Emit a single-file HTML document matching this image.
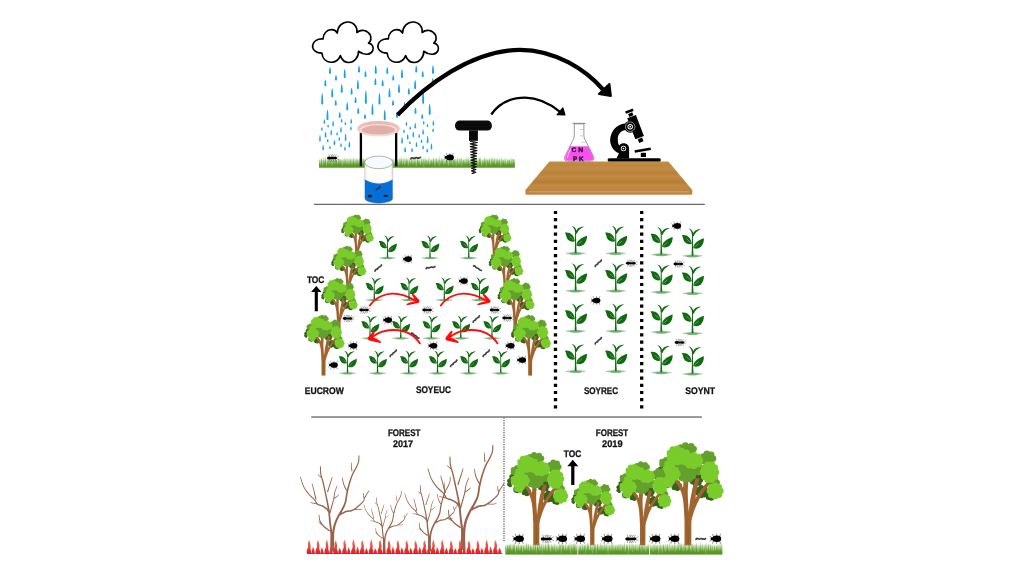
<!DOCTYPE html>
<html lang="en"><head><meta charset="utf-8"><title>Sampling design</title>
<style>
html,body{margin:0;padding:0;background:#fff;}
body{width:1024px;height:576px;overflow:hidden;}
svg{display:block;will-change:transform;font-family:"Liberation Sans","DejaVu Sans",sans-serif;}
</style></head>
<body>
<svg width="1024" height="576" viewBox="0 0 1024 576">
<defs>
<symbol id="tree" viewBox="-5.8 0 105.8 160" preserveAspectRatio="none" overflow="visible"><ellipse cx="27.5" cy="67.5" rx="6.1" ry="6.1" fill="#3b6121"/><circle cx="31.7" cy="67.5" r="4.3" fill="#3b6121"/><circle cx="28.8" cy="71.5" r="4.3" fill="#3b6121"/><circle cx="24.1" cy="70.0" r="4.3" fill="#3b6121"/><circle cx="24.1" cy="65.0" r="4.3" fill="#3b6121"/><circle cx="28.8" cy="63.5" r="4.3" fill="#3b6121"/><ellipse cx="58.0" cy="58.5" rx="8.1" ry="8.1" fill="#3b6121"/><circle cx="64.2" cy="58.5" r="4.3" fill="#3b6121"/><circle cx="61.9" cy="63.3" r="4.3" fill="#3b6121"/><circle cx="56.6" cy="64.5" r="4.3" fill="#3b6121"/><circle cx="52.4" cy="61.2" r="4.3" fill="#3b6121"/><circle cx="52.4" cy="55.8" r="4.3" fill="#3b6121"/><circle cx="56.6" cy="52.5" r="4.3" fill="#3b6121"/><circle cx="61.9" cy="53.7" r="4.3" fill="#3b6121"/><ellipse cx="67.0" cy="76.5" rx="8.1" ry="8.1" fill="#3b6121"/><circle cx="73.2" cy="76.5" r="4.3" fill="#3b6121"/><circle cx="70.9" cy="81.3" r="4.3" fill="#3b6121"/><circle cx="65.6" cy="82.5" r="4.3" fill="#3b6121"/><circle cx="61.4" cy="79.2" r="4.3" fill="#3b6121"/><circle cx="61.4" cy="73.8" r="4.3" fill="#3b6121"/><circle cx="65.6" cy="70.5" r="4.3" fill="#3b6121"/><circle cx="70.9" cy="71.7" r="4.3" fill="#3b6121"/><ellipse cx="-0.8" cy="52.5" rx="3.4" ry="6.6" fill="#3b6121"/><circle cx="1.2" cy="52.5" r="3.2" fill="#3b6121"/><circle cx="-0.2" cy="57.4" r="3.2" fill="#3b6121"/><circle cx="-2.4" cy="55.5" r="3.2" fill="#3b6121"/><circle cx="-2.4" cy="49.5" r="3.2" fill="#3b6121"/><circle cx="-0.2" cy="47.6" r="3.2" fill="#3b6121"/><ellipse cx="4.0" cy="43.0" rx="4.1" ry="4.1" fill="#3b6121"/><circle cx="6.5" cy="43.0" r="3.5" fill="#3b6121"/><circle cx="4.8" cy="45.4" r="3.5" fill="#3b6121"/><circle cx="2.0" cy="44.5" r="3.5" fill="#3b6121"/><circle cx="2.0" cy="41.5" r="3.5" fill="#3b6121"/><circle cx="4.8" cy="40.6" r="3.5" fill="#3b6121"/><ellipse cx="80.0" cy="83.0" rx="5.6" ry="5.6" fill="#3b6121"/><circle cx="83.7" cy="83.0" r="4.3" fill="#3b6121"/><circle cx="81.1" cy="86.5" r="4.3" fill="#3b6121"/><circle cx="77.0" cy="85.2" r="4.3" fill="#3b6121"/><circle cx="77.0" cy="80.8" r="4.3" fill="#3b6121"/><circle cx="81.1" cy="79.5" r="4.3" fill="#3b6121"/><ellipse cx="12.0" cy="64.0" rx="4.6" ry="4.6" fill="#3b6121"/><circle cx="14.7" cy="64.0" r="4.3" fill="#3b6121"/><circle cx="12.8" cy="66.6" r="4.3" fill="#3b6121"/><circle cx="9.8" cy="65.6" r="4.3" fill="#3b6121"/><circle cx="9.8" cy="62.4" r="4.3" fill="#3b6121"/><circle cx="12.8" cy="61.4" r="4.3" fill="#3b6121"/><ellipse cx="43.5" cy="10.8" rx="12.6" ry="8.0" fill="#64a02c"/><circle cx="53.9" cy="10.8" r="5.0" fill="#64a02c"/><circle cx="50.0" cy="15.3" r="5.0" fill="#64a02c"/><circle cx="41.2" cy="16.4" r="5.0" fill="#64a02c"/><circle cx="34.2" cy="13.3" r="5.0" fill="#64a02c"/><circle cx="34.2" cy="8.3" r="5.0" fill="#64a02c"/><circle cx="41.2" cy="5.2" r="5.0" fill="#64a02c"/><circle cx="50.0" cy="6.3" r="5.0" fill="#64a02c"/><ellipse cx="76.0" cy="25.5" rx="10.1" ry="10.1" fill="#64a02c"/><circle cx="83.8" cy="25.5" r="5.0" fill="#64a02c"/><circle cx="80.9" cy="31.6" r="5.0" fill="#64a02c"/><circle cx="74.3" cy="33.1" r="5.0" fill="#64a02c"/><circle cx="69.0" cy="28.9" r="5.0" fill="#64a02c"/><circle cx="69.0" cy="22.1" r="5.0" fill="#64a02c"/><circle cx="74.3" cy="17.9" r="5.0" fill="#64a02c"/><circle cx="80.9" cy="19.4" r="5.0" fill="#64a02c"/><ellipse cx="13.0" cy="32.5" rx="10.5" ry="7.2" fill="#64a02c"/><circle cx="21.4" cy="32.5" r="4.6" fill="#64a02c"/><circle cx="18.2" cy="36.5" r="4.6" fill="#64a02c"/><circle cx="11.1" cy="37.5" r="4.6" fill="#64a02c"/><circle cx="5.4" cy="34.7" r="4.6" fill="#64a02c"/><circle cx="5.4" cy="30.3" r="4.6" fill="#64a02c"/><circle cx="11.1" cy="27.5" r="4.6" fill="#64a02c"/><circle cx="18.2" cy="28.5" r="4.6" fill="#64a02c"/><ellipse cx="86.0" cy="62.5" rx="6.1" ry="6.1" fill="#64a02c"/><circle cx="90.2" cy="62.5" r="4.3" fill="#64a02c"/><circle cx="87.3" cy="66.5" r="4.3" fill="#64a02c"/><circle cx="82.6" cy="65.0" r="4.3" fill="#64a02c"/><circle cx="82.6" cy="60.0" r="4.3" fill="#64a02c"/><circle cx="87.3" cy="58.5" r="4.3" fill="#64a02c"/><ellipse cx="56.0" cy="40.0" rx="10.2" ry="10.2" fill="#64a02c"/><circle cx="64.0" cy="40.0" r="5.0" fill="#64a02c"/><circle cx="61.0" cy="46.3" r="5.0" fill="#64a02c"/><circle cx="54.2" cy="47.8" r="5.0" fill="#64a02c"/><circle cx="48.8" cy="43.5" r="5.0" fill="#64a02c"/><circle cx="48.8" cy="36.5" r="5.0" fill="#64a02c"/><circle cx="54.2" cy="32.2" r="5.0" fill="#64a02c"/><circle cx="61.0" cy="33.7" r="5.0" fill="#64a02c"/><ellipse cx="30.0" cy="36.0" rx="7.2" ry="7.2" fill="#64a02c"/><circle cx="35.0" cy="36.0" r="5.0" fill="#64a02c"/><circle cx="31.5" cy="40.8" r="5.0" fill="#64a02c"/><circle cx="26.0" cy="38.9" r="5.0" fill="#64a02c"/><circle cx="26.0" cy="33.1" r="5.0" fill="#64a02c"/><circle cx="31.5" cy="31.2" r="5.0" fill="#64a02c"/><g transform="translate(0,0)"><path d="M39.8,160 L39.8,122 C39.5,112 38.8,102 38,93 C37.2,86 35.4,78 31.8,71 C29.2,66 26,62 22.5,58.5 L27,55.5 C31,59 34.6,64 37.4,70.5 C38.2,66 38.4,60 38.4,55 L45.8,55 C45.6,62 45,70 44.8,76 C44.8,86 45.6,98 46.4,108 C47.2,98 48.8,87 50.6,79 C52,72 54.2,63 57.2,55.5 L63.2,56.5 C61.2,63 59.2,70 58,76 C57.4,80 57,84 56.9,87.5 C60.4,80 66,72 76.5,59.5 L81,62.5 C73.6,71 67.6,79 63.2,87 C59.2,94 56,102 53.6,110 C51.4,116 50.6,120 50.4,124 L50.2,160 Z" fill="#a0652f"/><path d="M44.2,160 C44.6,140 44.6,128 44.2,112 C45.4,124 46.6,140 46.6,160 Z" fill="#8a5526" opacity="0.7"/><path d="M41.6,120 C41.8,106 41,94 39.6,84" stroke="#8a5526" stroke-width="1" fill="none" opacity="0.5"/></g><ellipse cx="42.7" cy="46.5" rx="13.6" ry="13.6" fill="#64a02c"/><circle cx="54.1" cy="46.5" r="5.0" fill="#64a02c"/><circle cx="52.3" cy="52.7" r="5.0" fill="#64a02c"/><circle cx="47.4" cy="56.9" r="5.0" fill="#64a02c"/><circle cx="41.1" cy="57.8" r="5.0" fill="#64a02c"/><circle cx="35.2" cy="55.1" r="5.0" fill="#64a02c"/><circle cx="31.8" cy="49.7" r="5.0" fill="#64a02c"/><circle cx="31.8" cy="43.3" r="5.0" fill="#64a02c"/><circle cx="35.2" cy="37.9" r="5.0" fill="#64a02c"/><circle cx="41.1" cy="35.2" r="5.0" fill="#64a02c"/><circle cx="47.4" cy="36.1" r="5.0" fill="#64a02c"/><circle cx="52.3" cy="40.3" r="5.0" fill="#64a02c"/><ellipse cx="27.0" cy="20.5" rx="12.6" ry="12.6" fill="#79cc2b"/><circle cx="37.3" cy="20.5" r="5.2" fill="#79cc2b"/><circle cx="34.9" cy="27.1" r="5.2" fill="#79cc2b"/><circle cx="28.8" cy="30.6" r="5.2" fill="#79cc2b"/><circle cx="21.9" cy="29.4" r="5.2" fill="#79cc2b"/><circle cx="17.3" cy="24.0" r="5.2" fill="#79cc2b"/><circle cx="17.3" cy="17.0" r="5.2" fill="#79cc2b"/><circle cx="21.8" cy="11.6" r="5.2" fill="#79cc2b"/><circle cx="28.8" cy="10.4" r="5.2" fill="#79cc2b"/><circle cx="34.9" cy="13.9" r="5.2" fill="#79cc2b"/><ellipse cx="38.0" cy="22.5" rx="9.8" ry="9.8" fill="#79cc2b"/><circle cx="45.5" cy="22.5" r="5.0" fill="#79cc2b"/><circle cx="42.7" cy="28.4" r="5.0" fill="#79cc2b"/><circle cx="36.3" cy="29.8" r="5.0" fill="#79cc2b"/><circle cx="31.2" cy="25.8" r="5.0" fill="#79cc2b"/><circle cx="31.2" cy="19.2" r="5.0" fill="#79cc2b"/><circle cx="36.3" cy="15.2" r="5.0" fill="#79cc2b"/><circle cx="42.7" cy="16.6" r="5.0" fill="#79cc2b"/><ellipse cx="52.5" cy="28.5" rx="13.4" ry="10.4" fill="#79cc2b"/><circle cx="63.5" cy="28.5" r="5.2" fill="#79cc2b"/><circle cx="61.0" cy="33.7" r="5.2" fill="#79cc2b"/><circle cx="54.4" cy="36.5" r="5.2" fill="#79cc2b"/><circle cx="47.0" cy="35.5" r="5.2" fill="#79cc2b"/><circle cx="42.1" cy="31.3" r="5.2" fill="#79cc2b"/><circle cx="42.1" cy="25.7" r="5.2" fill="#79cc2b"/><circle cx="47.0" cy="21.5" r="5.2" fill="#79cc2b"/><circle cx="54.4" cy="20.5" r="5.2" fill="#79cc2b"/><circle cx="61.0" cy="23.3" r="5.2" fill="#79cc2b"/><ellipse cx="78.5" cy="46.5" rx="12.0" ry="14.2" fill="#79cc2b"/><circle cx="88.2" cy="46.5" r="5.2" fill="#79cc2b"/><circle cx="86.3" cy="53.5" r="5.2" fill="#79cc2b"/><circle cx="81.5" cy="57.8" r="5.2" fill="#79cc2b"/><circle cx="75.5" cy="57.8" r="5.2" fill="#79cc2b"/><circle cx="70.7" cy="53.5" r="5.2" fill="#79cc2b"/><circle cx="68.8" cy="46.5" r="5.2" fill="#79cc2b"/><circle cx="70.7" cy="39.5" r="5.2" fill="#79cc2b"/><circle cx="75.5" cy="35.2" r="5.2" fill="#79cc2b"/><circle cx="81.5" cy="35.2" r="5.2" fill="#79cc2b"/><circle cx="86.3" cy="39.5" r="5.2" fill="#79cc2b"/><ellipse cx="16.5" cy="36.0" rx="6.3" ry="6.3" fill="#79cc2b"/><circle cx="20.7" cy="36.0" r="4.6" fill="#79cc2b"/><circle cx="17.8" cy="40.0" r="4.6" fill="#79cc2b"/><circle cx="13.1" cy="38.5" r="4.6" fill="#79cc2b"/><circle cx="13.1" cy="33.5" r="4.6" fill="#79cc2b"/><circle cx="17.8" cy="32.0" r="4.6" fill="#79cc2b"/><ellipse cx="17.0" cy="49.0" rx="14.1" ry="10.4" fill="#79cc2b"/><circle cx="28.8" cy="49.0" r="5.2" fill="#79cc2b"/><circle cx="26.0" cy="54.2" r="5.2" fill="#79cc2b"/><circle cx="19.0" cy="56.9" r="5.2" fill="#79cc2b"/><circle cx="11.1" cy="56.0" r="5.2" fill="#79cc2b"/><circle cx="5.9" cy="51.8" r="5.2" fill="#79cc2b"/><circle cx="5.9" cy="46.2" r="5.2" fill="#79cc2b"/><circle cx="11.1" cy="42.0" r="5.2" fill="#79cc2b"/><circle cx="19.0" cy="41.1" r="5.2" fill="#79cc2b"/><circle cx="26.0" cy="43.8" r="5.2" fill="#79cc2b"/><ellipse cx="15.5" cy="61.0" rx="7.0" ry="7.0" fill="#79cc2b"/><circle cx="20.3" cy="61.0" r="4.8" fill="#79cc2b"/><circle cx="17.0" cy="65.6" r="4.8" fill="#79cc2b"/><circle cx="11.6" cy="63.8" r="4.8" fill="#79cc2b"/><circle cx="11.6" cy="58.2" r="4.8" fill="#79cc2b"/><circle cx="17.0" cy="56.4" r="4.8" fill="#79cc2b"/><ellipse cx="87.0" cy="75.5" rx="10.4" ry="10.4" fill="#79cc2b"/><circle cx="95.2" cy="75.5" r="5.0" fill="#79cc2b"/><circle cx="92.8" cy="81.3" r="5.0" fill="#79cc2b"/><circle cx="87.0" cy="83.7" r="5.0" fill="#79cc2b"/><circle cx="81.2" cy="81.3" r="5.0" fill="#79cc2b"/><circle cx="78.8" cy="75.5" r="5.0" fill="#79cc2b"/><circle cx="81.2" cy="69.7" r="5.0" fill="#79cc2b"/><circle cx="87.0" cy="67.3" r="5.0" fill="#79cc2b"/><circle cx="92.8" cy="69.7" r="5.0" fill="#79cc2b"/></symbol>
<g id="seed"><ellipse cx="0" cy="0.9" rx="10.3" ry="1.3" fill="#2e8b2e" opacity="0.42"/><ellipse cx="0" cy="1.3" rx="6" ry="1.3" fill="#2e8b2e" opacity="0.45"/><path d="M-0.9,0.5 C-0.55,-6 -0.6,-14 -0.5,-21 L0.45,-21 C0.5,-14 0.55,-6 1.05,0.5 Z" fill="#0f6a10"/><path d="M-0.5,-19.6 C-0.7,-22.6 -1.8,-25 -4.3,-26.6 C-1,-26.2 0.7,-23.8 0.8,-20.4 Z" fill="#0f6a10"/><path d="M-0.1,-19 C0.4,-23.4 3.8,-26 8.8,-25.6 C5.4,-24.4 2.6,-22.2 1.2,-18.6 Z" fill="#0f6a10"/><path d="M-0.7,-11.1 C-3,-10.3 -7.2,-10.9 -8.8,-14.4 C-9.4,-16.5 -9.7,-18.4 -10.7,-19.7 C-5.8,-20.6 -1.5,-17.4 -0.7,-11.1 Z" fill="#0f6a10"/><path d="M0.8,-7 C0.9,-11.6 5.4,-14.8 11.4,-16.8 C11.4,-12.4 9.8,-8.4 6.1,-6.7 C4,-6 2.2,-6.3 0.8,-7 Z" fill="#0f6a10"/><path d="M-1.8,-12.4 L-6,-16.2" stroke="#d8efd8" stroke-width="0.5" fill="none" opacity="0.8"/><path d="M2,-7.8 L6.2,-11.4" stroke="#d8efd8" stroke-width="0.5" fill="none" opacity="0.8"/></g>
<g id="beetle"><g stroke="#333" stroke-width="0.9" fill="none" opacity="0.5" stroke-linecap="round"><path d="M-2.7,-2.2 L-3.2,-4.1"/><path d="M-2.7,2.2 L-3.2,4.1"/><path d="M0.3,-2.2 L0.3,-4.1"/><path d="M0.3,2.2 L0.3,4.1"/><path d="M3.0,-2.2 L3.7,-4.1"/><path d="M3.0,2.2 L3.7,4.1"/><path d="M-4.4,-1 L-5.6,-2.2"/><path d="M-4.4,1 L-5.6,2.2"/></g><ellipse cx="0.4" cy="0" rx="3.95" ry="2.95" fill="#000"/><circle cx="-3.7" cy="0" r="1.35" fill="#000"/></g>
<g id="ant"><g stroke="#444" stroke-width="0.9" fill="none" opacity="0.5" stroke-linecap="round"><path d="M-2.2,-0.8 L-3.4000000000000004,-3.6"/><path d="M-2.2,0.8 L-3.4000000000000004,3.6"/><path d="M-1.4000000000000001,-0.8 L0.19999999999999973,-3.4"/><path d="M-1.4000000000000001,0.8 L0.19999999999999973,3.4"/><path d="M0.0,-0.8 L-1.2,-3.6"/><path d="M0.0,0.8 L-1.2,3.6"/><path d="M0.8,-0.8 L2.4,-3.4"/><path d="M0.8,0.8 L2.4,3.4"/><path d="M2.0,-0.8 L0.8,-3.6"/><path d="M2.0,0.8 L0.8,3.6"/><path d="M2.8,-0.8 L4.4,-3.4"/><path d="M2.8,0.8 L4.4,3.4"/><path d="M4.6,-0.5 L7,-2"/><path d="M4.6,0.5 L7,1.6"/></g><ellipse cx="-3" cy="0" rx="2.3" ry="1.6" fill="#000"/><ellipse cx="0.3" cy="0" rx="2" ry="1.2" fill="#000"/><ellipse cx="3.3" cy="0" rx="2" ry="1.4" fill="#000"/></g>
<g id="worm"><path d="M-5.2,0.8 C-3.8,-1.6 -2.2,1.5 -0.5,0 C1.2,-1.5 2.6,1.4 5.2,-0.7" stroke="#2e2e2e" stroke-width="2.0" stroke-linecap="round" fill="none" opacity="0.9"/></g>
<path id="cloud" d="M 321.88,53.12 C 315.00,53.12 311.88,48.75 312.75,45.00 C 313.50,41.25 317.50,38.50 323.12,39.00 C 323.12,33.75 326.88,29.38 331.88,29.62 C 334.38,29.75 336.25,31.25 337.25,33.12 C 337.50,26.25 342.50,21.88 348.12,22.00 C 353.75,22.12 357.75,26.88 356.88,32.50 C 361.25,28.75 367.50,30.00 370.25,35.00 C 371.50,38.12 370.62,41.25 368.50,43.12 C 372.50,43.75 374.00,47.50 372.75,50.62 C 371.25,54.38 365.00,56.25 358.50,51.25 C 358.75,57.50 353.75,62.50 349.00,62.50 C 345.00,62.50 341.88,60.00 340.38,55.62 C 338.75,60.00 335.00,62.50 330.62,62.25 C 326.25,62.00 322.50,58.75 321.88,53.12 Z" fill="#fff" stroke="#000" stroke-width="1.65" stroke-linejoin="round"/>
<linearGradient id="gr1" gradientUnits="userSpaceOnUse" x1="0" y1="156.40" x2="0" y2="167.70"><stop offset="0" stop-color="#80b44e" stop-opacity="0.3"/><stop offset="0.3" stop-color="#6ea838" stop-opacity="0.7"/><stop offset="0.6" stop-color="#5f9e2c" stop-opacity="0.92"/><stop offset="0.85" stop-color="#569722"/><stop offset="1" stop-color="#52921f"/></linearGradient>
<linearGradient id="gr1b" gradientUnits="userSpaceOnUse" x1="0" y1="156.40" x2="0" y2="167.70"><stop offset="0.15" stop-color="#6ea838" stop-opacity="0"/><stop offset="0.5" stop-color="#62a02e" stop-opacity="0.55"/><stop offset="0.75" stop-color="#589824" stop-opacity="0.95"/><stop offset="1" stop-color="#52921f"/></linearGradient>
<linearGradient id="pl" x1="0" y1="0" x2="0" y2="1"><stop offset="0" stop-color="#e4b5ae"/><stop offset="0.45" stop-color="#efc4bd"/><stop offset="1" stop-color="#f8d9d3"/></linearGradient>
<linearGradient id="bk" x1="0" y1="0" x2="1" y2="0"><stop offset="0" stop-color="#efefeb"/><stop offset="0.12" stop-color="#fefefb"/><stop offset="0.88" stop-color="#fefefb"/><stop offset="1" stop-color="#eaeae6"/></linearGradient>
<linearGradient id="wood" x1="0" y1="0" x2="0" y2="1"><stop offset="0" stop-color="#c48d45"/><stop offset="0.12" stop-color="#be8640"/><stop offset="0.2" stop-color="#c38c44"/><stop offset="0.35" stop-color="#b98039"/><stop offset="0.45" stop-color="#c38b43"/><stop offset="0.62" stop-color="#b77d36"/><stop offset="0.72" stop-color="#c28a42"/><stop offset="0.88" stop-color="#bd8540"/><stop offset="1" stop-color="#c08842"/></linearGradient>
<path id="bare" d="M2.10,0.48 L2.06,-0.45 L2.01,-1.75 L1.96,-3.27 L1.90,-4.91 L1.85,-6.54 L1.80,-8.02 L1.75,-9.48 L1.70,-11.02 L1.64,-12.55 L1.59,-13.97 L1.54,-15.16 L1.50,-16.02 L-1.90,-15.98 L-1.92,-15.11 L-1.94,-13.92 L-1.96,-12.51 L-1.97,-10.98 L-1.98,-9.43 L-2.00,-7.98 L-2.02,-6.49 L-2.03,-4.87 L-2.04,-3.23 L-2.06,-1.70 L-2.08,-0.41 L-2.10,0.52 Z M0.34,-10.04 L0.29,-11.00 L0.24,-12.33 L0.18,-13.91 L0.10,-15.64 L-0.00,-17.40 L-0.13,-19.08 L-0.30,-20.71 L-0.51,-22.37 L-0.74,-24.06 L-0.97,-25.75 L-1.20,-27.43 L-1.41,-29.10 L-1.59,-30.76 L-1.76,-32.45 L-1.92,-34.14 L-2.09,-35.82 L-2.27,-37.48 L-2.48,-39.11 L-2.71,-40.67 L-2.95,-42.18 L-3.21,-43.66 L-3.48,-45.14 L-3.76,-46.62 L-4.06,-48.14 L-4.37,-49.68 L-4.69,-51.21 L-5.03,-52.75 L-5.38,-54.32 L-5.75,-55.94 L-6.13,-57.64 L-6.53,-59.48 L-6.96,-61.45 L-7.40,-63.48 L-7.85,-65.49 L-8.28,-67.40 L-8.70,-69.15 L-9.12,-70.70 L-9.56,-72.11 L-9.98,-73.41 L-10.36,-74.64 L-10.70,-75.85 L-10.96,-77.09 L-11.14,-78.45 L-11.26,-79.92 L-11.33,-81.39 L-11.36,-82.76 L-11.39,-83.92 L-11.43,-84.76 L-12.37,-84.74 L-12.36,-83.90 L-12.36,-82.74 L-12.35,-81.36 L-12.30,-79.86 L-12.21,-78.34 L-12.04,-76.91 L-11.78,-75.59 L-11.46,-74.33 L-11.09,-73.06 L-10.69,-71.76 L-10.29,-70.38 L-9.90,-68.85 L-9.51,-67.12 L-9.10,-65.22 L-8.67,-63.21 L-8.26,-61.18 L-7.85,-59.20 L-7.47,-57.36 L-7.11,-55.65 L-6.77,-54.02 L-6.44,-52.44 L-6.13,-50.91 L-5.83,-49.39 L-5.54,-47.86 L-5.27,-46.34 L-5.01,-44.86 L-4.77,-43.40 L-4.54,-41.93 L-4.32,-40.43 L-4.12,-38.89 L-3.94,-37.30 L-3.78,-35.66 L-3.64,-33.98 L-3.50,-32.29 L-3.36,-30.59 L-3.19,-28.90 L-3.01,-27.21 L-2.80,-25.51 L-2.59,-23.82 L-2.39,-22.14 L-2.21,-20.51 L-2.07,-18.92 L-1.96,-17.28 L-1.88,-15.55 L-1.83,-13.84 L-1.79,-12.26 L-1.76,-10.93 L-1.74,-9.96 Z M1.77,-9.97 L1.79,-10.96 L1.80,-12.35 L1.83,-13.97 L1.88,-15.69 L1.97,-17.37 L2.10,-18.88 L2.27,-20.23 L2.47,-21.55 L2.71,-22.84 L2.99,-24.12 L3.31,-25.39 L3.69,-26.67 L4.14,-27.98 L4.66,-29.31 L5.23,-30.65 L5.83,-31.98 L6.46,-33.29 L7.07,-34.55 L7.70,-35.75 L8.36,-36.92 L9.04,-38.07 L9.73,-39.22 L10.40,-40.39 L11.01,-41.58 L11.59,-42.74 L12.14,-43.87 L12.66,-45.01 L13.16,-46.19 L13.62,-47.44 L14.02,-48.77 L14.35,-50.20 L14.60,-51.69 L14.80,-53.20 L14.99,-54.74 L15.20,-56.29 L15.48,-57.84 L15.81,-59.46 L16.19,-61.14 L16.59,-62.85 L17.02,-64.55 L17.45,-66.21 L17.90,-67.79 L18.35,-69.31 L18.82,-70.80 L19.29,-72.24 L19.79,-73.63 L20.29,-74.96 L20.81,-76.23 L21.35,-77.41 L21.93,-78.52 L22.53,-79.59 L23.13,-80.63 L23.71,-81.68 L24.24,-82.73 L24.73,-83.77 L25.21,-84.77 L25.66,-85.78 L26.07,-86.79 L26.43,-87.81 L26.72,-88.88 L26.93,-90.04 L27.05,-91.30 L27.11,-92.55 L27.14,-93.71 L27.15,-94.68 L27.17,-95.38 L26.23,-95.42 L26.18,-94.72 L26.15,-93.74 L26.10,-92.60 L26.02,-91.38 L25.88,-90.19 L25.68,-89.12 L25.39,-88.15 L25.03,-87.19 L24.62,-86.24 L24.16,-85.27 L23.67,-84.28 L23.16,-83.27 L22.63,-82.26 L22.05,-81.26 L21.43,-80.22 L20.80,-79.14 L20.18,-78.00 L19.59,-76.77 L19.04,-75.47 L18.50,-74.11 L17.98,-72.70 L17.47,-71.24 L16.98,-69.74 L16.50,-68.21 L16.03,-66.61 L15.57,-64.93 L15.12,-63.21 L14.69,-61.49 L14.29,-59.80 L13.92,-58.16 L13.62,-56.55 L13.38,-54.96 L13.17,-53.42 L12.95,-51.94 L12.70,-50.54 L12.38,-49.23 L11.98,-48.00 L11.54,-46.85 L11.05,-45.74 L10.52,-44.65 L9.96,-43.55 L9.39,-42.42 L8.77,-41.30 L8.12,-40.18 L7.42,-39.05 L6.71,-37.90 L6.00,-36.69 L5.33,-35.45 L4.68,-34.16 L4.02,-32.84 L3.38,-31.48 L2.77,-30.10 L2.21,-28.71 L1.71,-27.33 L1.28,-25.97 L0.92,-24.62 L0.60,-23.28 L0.33,-21.93 L0.10,-20.55 L-0.10,-19.12 L-0.26,-17.54 L-0.37,-15.79 L-0.44,-14.03 L-0.49,-12.40 L-0.53,-11.02 L-0.57,-10.03 Z M-2.60,-39.47 L-2.84,-39.81 L-3.15,-40.30 L-3.55,-40.90 L-4.03,-41.56 L-4.57,-42.22 L-5.17,-42.82 L-5.84,-43.36 L-6.56,-43.86 L-7.32,-44.34 L-8.12,-44.79 L-8.92,-45.23 L-9.75,-45.64 L-10.63,-46.01 L-11.55,-46.31 L-12.46,-46.57 L-13.31,-46.84 L-14.05,-47.14 L-14.65,-47.51 L-15.07,-47.92 L-15.38,-48.40 L-15.66,-48.99 L-15.99,-49.70 L-16.45,-50.50 L-17.11,-51.37 L-17.99,-52.30 L-19.02,-53.28 L-20.15,-54.31 L-21.30,-55.37 L-22.41,-56.47 L-23.41,-57.58 L-24.33,-58.72 L-25.23,-59.88 L-26.10,-61.08 L-26.92,-62.31 L-27.69,-63.60 L-28.40,-64.94 L-29.06,-66.47 L-29.69,-68.21 L-30.27,-70.01 L-30.78,-71.72 L-31.21,-73.17 L-31.54,-74.21 L-32.26,-73.99 L-31.96,-72.95 L-31.55,-71.49 L-31.06,-69.77 L-30.49,-67.94 L-29.87,-66.15 L-29.20,-64.56 L-28.49,-63.16 L-27.72,-61.82 L-26.89,-60.54 L-26.02,-59.30 L-25.12,-58.10 L-24.19,-56.92 L-23.17,-55.75 L-22.04,-54.61 L-20.89,-53.51 L-19.78,-52.47 L-18.79,-51.50 L-17.99,-50.63 L-17.44,-49.86 L-17.07,-49.16 L-16.78,-48.48 L-16.48,-47.81 L-16.06,-47.13 L-15.45,-46.49 L-14.66,-45.98 L-13.78,-45.59 L-12.87,-45.27 L-11.97,-44.99 L-11.12,-44.70 L-10.35,-44.36 L-9.61,-43.95 L-8.84,-43.52 L-8.10,-43.07 L-7.41,-42.61 L-6.77,-42.14 L-6.23,-41.68 L-5.75,-41.18 L-5.31,-40.60 L-4.90,-40.00 L-4.55,-39.42 L-4.24,-38.91 L-4.00,-38.53 Z M-15.73,-51.63 L-15.95,-52.53 L-16.26,-53.78 L-16.61,-55.26 L-16.99,-56.84 L-17.38,-58.42 L-17.75,-59.86 L-18.14,-61.27 L-18.56,-62.77 L-18.99,-64.25 L-19.39,-65.61 L-19.73,-66.76 L-19.98,-67.59 L-20.62,-67.41 L-20.41,-66.57 L-20.11,-65.41 L-19.75,-64.04 L-19.37,-62.55 L-18.99,-61.05 L-18.65,-59.64 L-18.32,-58.20 L-17.97,-56.62 L-17.63,-55.03 L-17.31,-53.54 L-17.05,-52.28 L-16.87,-51.37 Z M-14.96,-47.51 L-15.32,-47.55 L-15.81,-47.61 L-16.38,-47.69 L-17.00,-47.77 L-17.62,-47.88 L-18.20,-47.99 L-18.80,-48.13 L-19.47,-48.32 L-20.15,-48.51 L-20.78,-48.70 L-21.32,-48.86 L-21.71,-48.97 L-21.89,-48.43 L-21.51,-48.29 L-20.99,-48.09 L-20.36,-47.86 L-19.69,-47.62 L-19.02,-47.40 L-18.40,-47.21 L-17.79,-47.05 L-17.16,-46.91 L-16.53,-46.78 L-15.96,-46.66 L-15.48,-46.57 L-15.14,-46.49 Z M-4.24,-58.82 L-3.94,-59.84 L-3.49,-61.27 L-2.97,-62.96 L-2.42,-64.73 L-1.90,-66.42 L-1.46,-67.86 L-1.09,-69.13 L-0.74,-70.35 L-0.41,-71.50 L-0.13,-72.52 L0.10,-73.37 L0.27,-74.00 L-0.37,-74.20 L-0.58,-73.57 L-0.85,-72.73 L-1.17,-71.73 L-1.54,-70.60 L-1.93,-69.38 L-2.34,-68.14 L-2.81,-66.71 L-3.37,-65.04 L-3.96,-63.28 L-4.53,-61.61 L-5.01,-60.19 L-5.36,-59.18 Z M-2.14,-36.84 L-1.70,-38.44 L-1.06,-40.72 L-0.31,-43.38 L0.46,-46.15 L1.16,-48.75 L1.69,-50.88 L2.03,-52.54 L2.23,-53.94 L2.37,-55.14 L2.48,-56.23 L2.62,-57.28 L2.85,-58.40 L3.21,-59.64 L3.65,-60.97 L4.13,-62.28 L4.59,-63.50 L4.99,-64.53 L5.26,-65.28 L4.64,-65.52 L4.34,-64.78 L3.92,-63.77 L3.43,-62.55 L2.92,-61.23 L2.44,-59.89 L2.05,-58.60 L1.78,-57.44 L1.60,-56.34 L1.46,-55.25 L1.30,-54.07 L1.07,-52.72 L0.71,-51.12 L0.16,-49.01 L-0.56,-46.44 L-1.35,-43.68 L-2.13,-41.02 L-2.79,-38.76 L-3.26,-37.16 Z M1.95,-52.12 L2.27,-52.35 L2.74,-52.66 L3.30,-53.03 L3.88,-53.43 L4.45,-53.83 L4.93,-54.21 L5.35,-54.59 L5.76,-55.00 L6.12,-55.40 L6.45,-55.77 L6.71,-56.08 L6.91,-56.30 L6.49,-56.70 L6.27,-56.49 L5.99,-56.19 L5.65,-55.85 L5.27,-55.48 L4.87,-55.12 L4.47,-54.79 L4.00,-54.46 L3.44,-54.09 L2.85,-53.72 L2.29,-53.38 L1.80,-53.09 L1.45,-52.88 Z M-10.44,-73.87 L-10.69,-74.03 L-11.02,-74.24 L-11.42,-74.49 L-11.83,-74.76 L-12.22,-75.03 L-12.56,-75.28 L-12.87,-75.54 L-13.19,-75.83 L-13.50,-76.12 L-13.78,-76.40 L-14.01,-76.63 L-14.19,-76.80 L-14.61,-76.40 L-14.45,-76.22 L-14.23,-75.97 L-13.97,-75.67 L-13.67,-75.34 L-13.36,-75.02 L-13.04,-74.72 L-12.69,-74.42 L-12.29,-74.11 L-11.88,-73.81 L-11.50,-73.53 L-11.18,-73.30 L-10.96,-73.13 Z M14.83,-60.65 L14.44,-61.40 L13.91,-62.44 L13.28,-63.66 L12.65,-64.96 L12.08,-66.24 L11.64,-67.39 L11.33,-68.49 L11.09,-69.68 L10.90,-70.85 L10.75,-71.94 L10.64,-72.87 L10.53,-73.54 L9.87,-73.46 L9.93,-72.79 L10.01,-71.86 L10.11,-70.75 L10.26,-69.54 L10.47,-68.30 L10.76,-67.11 L11.19,-65.89 L11.74,-64.55 L12.34,-63.21 L12.93,-61.96 L13.43,-60.90 L13.77,-60.15 Z M20.21,-79.83 L20.12,-80.29 L19.99,-80.92 L19.84,-81.67 L19.70,-82.47 L19.58,-83.27 L19.50,-84.02 L19.47,-84.78 L19.48,-85.63 L19.51,-86.49 L19.54,-87.30 L19.57,-87.99 L19.58,-88.48 L19.02,-88.52 L18.97,-88.03 L18.90,-87.35 L18.82,-86.54 L18.75,-85.66 L18.71,-84.79 L18.70,-83.98 L18.74,-83.19 L18.83,-82.35 L18.93,-81.52 L19.04,-80.76 L19.13,-80.13 L19.19,-79.67 Z M7.85,-35.51 L8.53,-35.89 L9.47,-36.42 L10.56,-37.04 L11.74,-37.67 L12.90,-38.24 L13.94,-38.67 L14.89,-38.94 L15.87,-39.09 L16.90,-39.20 L17.97,-39.33 L19.09,-39.56 L20.22,-39.97 L21.34,-40.55 L22.45,-41.25 L23.54,-42.04 L24.60,-42.87 L25.63,-43.71 L26.60,-44.53 L27.55,-45.37 L28.50,-46.25 L29.42,-47.15 L30.27,-48.04 L31.02,-48.89 L31.63,-49.69 L32.06,-50.40 L32.27,-51.02 L32.36,-51.55 L32.41,-52.03 L32.55,-52.57 L32.86,-53.29 L33.43,-54.30 L34.20,-55.57 L35.06,-56.94 L35.90,-58.26 L36.62,-59.40 L37.12,-60.19 L36.48,-60.61 L35.96,-59.82 L35.22,-58.71 L34.35,-57.40 L33.47,-56.03 L32.66,-54.76 L32.04,-53.71 L31.66,-52.90 L31.47,-52.24 L31.38,-51.71 L31.29,-51.29 L31.12,-50.87 L30.77,-50.31 L30.18,-49.60 L29.45,-48.81 L28.61,-47.96 L27.70,-47.11 L26.75,-46.27 L25.80,-45.47 L24.83,-44.68 L23.81,-43.87 L22.77,-43.09 L21.71,-42.36 L20.67,-41.73 L19.68,-41.23 L18.72,-40.92 L17.76,-40.74 L16.75,-40.65 L15.70,-40.56 L14.59,-40.42 L13.46,-40.13 L12.27,-39.67 L11.03,-39.09 L9.80,-38.46 L8.67,-37.86 L7.73,-37.34 L7.05,-36.99 Z M32.24,-53.03 L32.14,-53.32 L32.00,-53.71 L31.84,-54.17 L31.68,-54.65 L31.55,-55.13 L31.47,-55.54 L31.43,-55.95 L31.42,-56.39 L31.43,-56.84 L31.46,-57.26 L31.48,-57.61 L31.48,-57.88 L30.92,-57.92 L30.88,-57.67 L30.83,-57.31 L30.78,-56.89 L30.74,-56.42 L30.72,-55.93 L30.73,-55.46 L30.80,-54.97 L30.92,-54.45 L31.05,-53.93 L31.18,-53.45 L31.29,-53.05 L31.36,-52.77 Z M22.43,-41.05 L22.84,-41.04 L23.40,-41.03 L24.07,-41.01 L24.80,-40.99 L25.53,-41.00 L26.22,-41.03 L26.90,-41.10 L27.63,-41.20 L28.36,-41.32 L29.03,-41.44 L29.59,-41.54 L29.99,-41.62 L29.91,-42.18 L29.50,-42.13 L28.93,-42.06 L28.26,-41.97 L27.54,-41.88 L26.83,-41.81 L26.18,-41.77 L25.53,-41.77 L24.82,-41.79 L24.11,-41.83 L23.44,-41.88 L22.88,-41.92 L22.47,-41.95 Z M-2.12,-20.57 L-2.84,-21.10 L-3.86,-21.82 L-5.04,-22.67 L-6.27,-23.60 L-7.42,-24.54 L-8.37,-25.42 L-9.16,-26.28 L-9.90,-27.16 L-10.57,-28.07 L-11.17,-28.97 L-11.68,-29.88 L-12.09,-30.77 L-12.38,-31.71 L-12.57,-32.74 L-12.67,-33.80 L-12.73,-34.80 L-12.77,-35.65 L-12.82,-36.27 L-13.58,-36.23 L-13.56,-35.62 L-13.56,-34.77 L-13.54,-33.75 L-13.47,-32.63 L-13.31,-31.50 L-13.01,-30.43 L-12.59,-29.43 L-12.08,-28.44 L-11.48,-27.45 L-10.80,-26.48 L-10.05,-25.52 L-9.23,-24.58 L-8.24,-23.61 L-7.07,-22.60 L-5.84,-21.63 L-4.67,-20.73 L-3.67,-19.98 L-2.98,-19.43 Z M-9.13,-25.97 L-9.41,-26.15 L-9.79,-26.41 L-10.23,-26.71 L-10.70,-27.04 L-11.16,-27.37 L-11.56,-27.68 L-11.94,-28.00 L-12.33,-28.37 L-12.71,-28.74 L-13.07,-29.09 L-13.37,-29.39 L-13.60,-29.60 L-14.00,-29.20 L-13.80,-28.97 L-13.52,-28.66 L-13.19,-28.28 L-12.81,-27.88 L-12.42,-27.49 L-12.04,-27.12 L-11.63,-26.77 L-11.18,-26.40 L-10.72,-26.04 L-10.29,-25.71 L-9.92,-25.44 L-9.67,-25.23 Z " fill="#98634c"/>
<linearGradient id="fl" x1="0" y1="0" x2="0" y2="1"><stop offset="0" stop-color="#f68a62"/><stop offset="0.3" stop-color="#ee5e46"/><stop offset="0.7" stop-color="#e23634"/><stop offset="1" stop-color="#d81f2a"/></linearGradient>
<linearGradient id="gr2" gradientUnits="userSpaceOnUse" x1="0" y1="541.70" x2="0" y2="554.60"><stop offset="0" stop-color="#80b44e" stop-opacity="0.3"/><stop offset="0.3" stop-color="#6ea838" stop-opacity="0.7"/><stop offset="0.6" stop-color="#5f9e2c" stop-opacity="0.92"/><stop offset="0.85" stop-color="#569722"/><stop offset="1" stop-color="#52921f"/></linearGradient>
<linearGradient id="gr2b" gradientUnits="userSpaceOnUse" x1="0" y1="541.70" x2="0" y2="554.60"><stop offset="0.15" stop-color="#6ea838" stop-opacity="0"/><stop offset="0.5" stop-color="#62a02e" stop-opacity="0.55"/><stop offset="0.75" stop-color="#589824" stop-opacity="0.95"/><stop offset="1" stop-color="#52921f"/></linearGradient>
</defs>
<rect width="1024" height="576" fill="#fff"/>
<path d="M330.00,66.90 C330.55,67.45 331.00,69.64 331.00,72.75 C331.00,74.08 329.00,74.08 329.00,72.75 C329.00,69.64 329.45,67.45 330.00,66.90 Z M387.25,66.90 C387.80,67.45 388.25,69.64 388.25,72.75 C388.25,74.08 386.25,74.08 386.25,72.75 C386.25,69.64 386.70,67.45 387.25,66.90 Z M336.00,75.00 C336.55,75.45 337.00,77.24 337.00,79.60 C337.00,80.93 335.00,80.93 335.00,79.60 C335.00,77.24 335.45,75.45 336.00,75.00 Z M393.25,75.00 C393.80,75.45 394.25,77.24 394.25,79.60 C394.25,80.93 392.25,80.93 392.25,79.60 C392.25,77.24 392.70,75.45 393.25,75.00 Z M344.75,68.75 C345.30,69.50 345.75,72.49 345.75,77.10 C345.75,78.43 343.75,78.43 343.75,77.10 C343.75,72.49 344.20,69.50 344.75,68.75 Z M402.00,68.75 C402.55,69.50 403.00,72.49 403.00,77.10 C403.00,78.43 401.00,78.43 401.00,77.10 C401.00,72.49 401.45,69.50 402.00,68.75 Z M359.00,65.60 C359.55,66.15 360.00,68.36 360.00,71.50 C360.00,72.83 358.00,72.83 358.00,71.50 C358.00,68.36 358.45,66.15 359.00,65.60 Z M416.25,65.60 C416.80,66.15 417.25,68.36 417.25,71.50 C417.25,72.83 415.25,72.83 415.25,71.50 C415.25,68.36 415.70,66.15 416.25,65.60 Z M365.50,71.00 C366.05,71.47 366.50,73.36 366.50,75.90 C366.50,77.23 364.50,77.23 364.50,75.90 C364.50,73.36 364.95,71.47 365.50,71.00 Z M422.75,71.00 C423.30,71.47 423.75,73.36 423.75,75.90 C423.75,77.23 421.75,77.23 421.75,75.90 C421.75,73.36 422.20,71.47 422.75,71.00 Z M375.75,65.00 C376.30,65.70 376.75,68.50 376.75,72.75 C376.75,74.08 374.75,74.08 374.75,72.75 C374.75,68.50 375.20,65.70 375.75,65.00 Z M433.00,65.00 C433.55,65.70 434.00,68.50 434.00,72.75 C434.00,74.08 432.00,74.08 432.00,72.75 C432.00,68.50 432.45,65.70 433.00,65.00 Z M325.40,79.75 C325.95,80.27 326.40,82.35 326.40,85.25 C326.40,86.58 324.40,86.58 324.40,85.25 C324.40,82.35 324.85,80.27 325.40,79.75 Z M382.65,79.75 C383.20,80.27 383.65,82.35 383.65,85.25 C383.65,86.58 381.65,86.58 381.65,85.25 C381.65,82.35 382.10,80.27 382.65,79.75 Z M357.90,79.75 C358.45,80.49 358.90,83.45 358.90,88.00 C358.90,89.33 356.90,89.33 356.90,88.00 C356.90,83.45 357.35,80.49 357.90,79.75 Z M415.15,79.75 C415.70,80.49 416.15,83.45 416.15,88.00 C416.15,89.33 414.15,89.33 414.15,88.00 C414.15,83.45 414.60,80.49 415.15,79.75 Z M375.40,78.00 C375.95,78.56 376.40,80.80 376.40,84.00 C376.40,85.33 374.40,85.33 374.40,84.00 C374.40,80.80 374.85,78.56 375.40,78.00 Z M432.65,78.00 C433.20,78.56 433.65,80.80 433.65,84.00 C433.65,85.33 431.65,85.33 431.65,84.00 C431.65,80.80 432.10,78.56 432.65,78.00 Z M341.75,83.75 C342.30,84.47 342.75,87.35 342.75,91.75 C342.75,93.08 340.75,93.08 340.75,91.75 C340.75,87.35 341.20,84.47 341.75,83.75 Z M399.00,83.75 C399.55,84.47 400.00,87.35 400.00,91.75 C400.00,93.08 398.00,93.08 398.00,91.75 C398.00,87.35 398.45,84.47 399.00,83.75 Z M332.25,88.00 C332.80,88.74 333.25,91.70 333.25,96.25 C333.25,97.58 331.25,97.58 331.25,96.25 C331.25,91.70 331.70,88.74 332.25,88.00 Z M389.50,88.00 C390.05,88.74 390.50,91.70 390.50,96.25 C390.50,97.58 388.50,97.58 388.50,96.25 C388.50,91.70 388.95,88.74 389.50,88.00 Z M351.60,87.75 C352.15,88.28 352.60,90.41 352.60,93.40 C352.60,94.73 350.60,94.73 350.60,93.40 C350.60,90.41 351.05,88.28 351.60,87.75 Z M408.85,87.75 C409.40,88.28 409.85,90.41 409.85,93.40 C409.85,94.73 407.85,94.73 407.85,93.40 C407.85,90.41 408.30,88.28 408.85,87.75 Z M365.90,90.00 C366.45,91.10 366.90,95.50 366.90,102.75 C366.90,104.08 364.90,104.08 364.90,102.75 C364.90,95.50 365.35,91.10 365.90,90.00 Z M423.15,90.00 C423.70,91.10 424.15,95.50 424.15,102.75 C424.15,104.08 422.15,104.08 422.15,102.75 C422.15,95.50 422.60,91.10 423.15,90.00 Z M322.25,92.75 C322.80,93.68 323.25,97.41 323.25,103.40 C323.25,104.73 321.25,104.73 321.25,103.40 C321.25,97.41 321.70,93.68 322.25,92.75 Z M379.50,92.75 C380.05,93.68 380.50,97.41 380.50,103.40 C380.50,104.73 378.50,104.73 378.50,103.40 C378.50,97.41 378.95,93.68 379.50,92.75 Z M355.60,96.90 C356.15,97.39 356.60,99.34 356.60,102.00 C356.60,103.33 354.60,103.33 354.60,102.00 C354.60,99.34 355.05,97.39 355.60,96.90 Z M412.85,96.90 C413.40,97.39 413.85,99.34 413.85,102.00 C413.85,103.33 411.85,103.33 411.85,102.00 C411.85,99.34 412.30,97.39 412.85,96.90 Z M335.75,100.00 C336.30,100.45 336.75,102.24 336.75,104.60 C336.75,105.93 334.75,105.93 334.75,104.60 C334.75,102.24 335.20,100.45 335.75,100.00 Z M393.00,100.00 C393.55,100.45 394.00,102.24 394.00,104.60 C394.00,105.93 392.00,105.93 392.00,104.60 C392.00,102.24 392.45,100.45 393.00,100.00 Z M347.25,101.90 C347.80,102.57 348.25,105.24 348.25,109.25 C348.25,110.58 346.25,110.58 346.25,109.25 C346.25,105.24 346.70,102.57 347.25,101.90 Z M404.50,101.90 C405.05,102.57 405.50,105.24 405.50,109.25 C405.50,110.58 403.50,110.58 403.50,109.25 C403.50,105.24 403.95,102.57 404.50,101.90 Z M372.50,103.50 C373.05,104.40 373.50,108.00 373.50,113.75 C373.50,115.08 371.50,115.08 371.50,113.75 C371.50,108.00 371.95,104.40 372.50,103.50 Z M429.75,103.50 C430.30,104.40 430.75,108.00 430.75,113.75 C430.75,115.08 428.75,115.08 428.75,113.75 C428.75,108.00 429.20,104.40 429.75,103.50 Z M358.25,107.50 C358.80,108.00 359.25,110.00 359.25,112.75 C359.25,114.08 357.25,114.08 357.25,112.75 C357.25,110.00 357.70,108.00 358.25,107.50 Z M415.50,107.50 C416.05,108.00 416.50,110.00 416.50,112.75 C416.50,114.08 414.50,114.08 414.50,112.75 C414.50,110.00 414.95,108.00 415.50,107.50 Z M327.50,109.40 C328.05,110.25 328.50,113.64 328.50,119.00 C328.50,120.33 326.50,120.33 326.50,119.00 C326.50,113.64 326.95,110.25 327.50,109.40 Z M384.75,109.40 C385.30,110.25 385.75,113.64 385.75,119.00 C385.75,120.33 383.75,120.33 383.75,119.00 C383.75,113.64 384.20,110.25 384.75,109.40 Z M339.75,111.90 C340.30,112.37 340.75,114.24 340.75,116.75 C340.75,118.08 338.75,118.08 338.75,116.75 C338.75,114.24 339.20,112.37 339.75,111.90 Z M397.00,111.90 C397.55,112.37 398.00,114.24 398.00,116.75 C398.00,118.08 396.00,118.08 396.00,116.75 C396.00,114.24 396.45,112.37 397.00,111.90 Z M365.00,114.00 C365.55,114.38 366.00,115.90 366.00,117.75 C366.00,119.08 364.00,119.08 364.00,117.75 C364.00,115.90 364.45,114.38 365.00,114.00 Z M422.25,114.00 C422.80,114.38 423.25,115.90 423.25,117.75 C423.25,119.08 421.25,119.08 421.25,117.75 C421.25,115.90 421.70,114.38 422.25,114.00 Z M324.38,119.31 C324.81,119.66 325.18,121.06 325.18,122.89 C325.18,123.95 323.57,123.95 323.57,122.89 C323.57,121.06 323.94,119.66 324.38,119.31 Z M406.48,121.41 C406.92,121.76 407.28,123.16 407.28,124.99 C407.28,126.05 405.68,126.05 405.68,124.99 C405.68,123.16 406.04,121.76 406.48,121.41 Z M333.12,120.69 C333.56,121.14 333.93,122.94 333.93,125.51 C333.93,126.58 332.32,126.58 332.32,125.51 C332.32,122.94 332.69,121.14 333.12,120.69 Z M415.23,122.79 C415.67,123.24 416.03,125.04 416.03,127.61 C416.03,128.68 414.43,128.68 414.43,127.61 C414.43,125.04 414.79,123.24 415.23,122.79 Z M341.62,118.75 C342.06,119.05 342.43,120.25 342.43,121.70 C342.43,122.76 340.82,122.76 340.82,121.70 C340.82,120.25 341.19,119.05 341.62,118.75 Z M423.73,120.85 C424.17,121.15 424.53,122.35 424.53,123.80 C424.53,124.86 422.93,124.86 422.93,123.80 C422.93,122.35 423.29,121.15 423.73,120.85 Z M345.38,121.94 C345.81,122.19 346.18,123.19 346.18,124.26 C346.18,125.33 344.57,125.33 344.57,124.26 C344.57,123.19 344.94,122.19 345.38,121.94 Z M427.48,124.04 C427.92,124.29 428.28,125.29 428.28,126.36 C428.28,127.43 426.68,127.43 426.68,126.36 C426.68,125.29 427.04,124.29 427.48,124.04 Z M351.25,118.50 C351.69,118.90 352.05,120.50 352.05,122.70 C352.05,123.76 350.45,123.76 350.45,122.70 C350.45,120.50 350.81,118.90 351.25,118.50 Z M433.35,120.60 C433.79,121.00 434.15,122.60 434.15,124.80 C434.15,125.86 432.55,125.86 432.55,124.80 C432.55,122.60 432.91,121.00 433.35,120.60 Z M328.12,124.44 C328.56,124.69 328.93,125.69 328.93,126.76 C328.93,127.83 327.32,127.83 327.32,126.76 C327.32,125.69 327.69,124.69 328.12,124.44 Z M410.23,126.54 C410.67,126.79 411.03,127.79 411.03,128.86 C411.03,129.93 409.43,129.93 409.43,128.86 C409.43,127.79 409.79,126.79 410.23,126.54 Z M321.88,127.12 C322.31,127.42 322.68,128.62 322.68,130.07 C322.68,131.14 321.07,131.14 321.07,130.07 C321.07,128.62 321.44,127.42 321.88,127.12 Z M403.98,129.22 C404.42,129.53 404.78,130.72 404.78,132.17 C404.78,133.24 403.18,133.24 403.18,132.17 C403.18,130.72 403.54,129.53 403.98,129.22 Z M341.00,126.81 C341.44,127.26 341.80,129.06 341.80,131.64 C341.80,132.70 340.20,132.70 340.20,131.64 C340.20,129.06 340.56,127.26 341.00,126.81 Z M423.10,128.91 C423.54,129.36 423.90,131.16 423.90,133.74 C423.90,134.80 422.30,134.80 422.30,133.74 C422.30,131.16 422.66,129.36 423.10,128.91 Z M351.00,126.25 C351.44,126.55 351.80,127.75 351.80,129.20 C351.80,130.26 350.20,130.26 350.20,129.20 C350.20,127.75 350.56,126.55 351.00,126.25 Z M433.10,128.35 C433.54,128.65 433.90,129.85 433.90,131.30 C433.90,132.36 432.30,132.36 432.30,131.30 C432.30,129.85 432.66,128.65 433.10,128.35 Z M331.25,129.44 C331.69,129.89 332.05,131.69 332.05,134.26 C332.05,135.33 330.45,135.33 330.45,134.26 C330.45,131.69 330.81,129.89 331.25,129.44 Z M413.35,131.54 C413.79,131.99 414.15,133.79 414.15,136.36 C414.15,137.43 412.55,137.43 412.55,136.36 C412.55,133.79 412.91,131.99 413.35,131.54 Z M325.62,131.81 C326.06,132.26 326.43,134.06 326.43,136.64 C326.43,137.70 324.82,137.70 324.82,136.64 C324.82,134.06 325.19,132.26 325.62,131.81 Z M407.73,133.91 C408.17,134.36 408.53,136.16 408.53,138.74 C408.53,139.80 406.93,139.80 406.93,138.74 C406.93,136.16 407.29,134.36 407.73,133.91 Z M337.12,131.88 C337.56,132.18 337.93,133.38 337.93,134.82 C337.93,135.89 336.32,135.89 336.32,134.82 C336.32,133.38 336.69,132.18 337.12,131.88 Z M419.23,133.97 C419.67,134.28 420.03,135.47 420.03,136.92 C420.03,137.99 418.43,137.99 418.43,136.92 C418.43,135.47 418.79,134.28 419.23,133.97 Z M320.00,134.69 C320.44,135.24 320.80,137.44 320.80,140.76 C320.80,141.83 319.20,141.83 319.20,140.76 C319.20,137.44 319.56,135.24 320.00,134.69 Z M402.10,136.79 C402.54,137.34 402.90,139.54 402.90,142.86 C402.90,143.93 401.30,143.93 401.30,142.86 C401.30,139.54 401.66,137.34 402.10,136.79 Z M345.62,133.50 C346.06,134.10 346.43,136.50 346.43,140.20 C346.43,141.26 344.82,141.26 344.82,140.20 C344.82,136.50 345.19,134.10 345.62,133.50 Z M427.73,135.60 C428.17,136.20 428.53,138.60 428.53,142.30 C428.53,143.36 426.93,143.36 426.93,142.30 C426.93,138.60 427.29,136.20 427.73,135.60 Z M339.38,137.12 C339.81,137.43 340.18,138.62 340.18,140.07 C340.18,141.14 338.57,141.14 338.57,140.07 C338.57,138.62 338.94,137.43 339.38,137.12 Z M421.48,139.22 C421.92,139.53 422.28,140.72 422.28,142.17 C422.28,143.24 420.68,143.24 420.68,142.17 C420.68,140.72 421.04,139.53 421.48,139.22 Z M327.75,139.06 C328.19,139.31 328.55,140.31 328.55,141.39 C328.55,142.45 326.95,142.45 326.95,141.39 C326.95,140.31 327.31,139.31 327.75,139.06 Z M409.85,141.16 C410.29,141.41 410.65,142.41 410.65,143.49 C410.65,144.55 409.05,144.55 409.05,143.49 C409.05,142.41 409.41,141.41 409.85,141.16 Z M334.38,140.00 C334.81,140.40 335.18,142.00 335.18,144.20 C335.18,145.26 333.57,145.26 333.57,144.20 C333.57,142.00 333.94,140.40 334.38,140.00 Z M416.48,142.10 C416.92,142.50 417.28,144.10 417.28,146.30 C417.28,147.36 415.68,147.36 415.68,146.30 C415.68,144.10 416.04,142.50 416.48,142.10 Z M349.38,141.25 C349.81,141.75 350.18,143.75 350.18,146.70 C350.18,147.76 348.57,147.76 348.57,146.70 C348.57,143.75 348.94,141.75 349.38,141.25 Z M431.48,143.35 C431.92,143.85 432.28,145.85 432.28,148.80 C432.28,149.86 430.68,149.86 430.68,148.80 C430.68,145.85 431.04,143.85 431.48,143.35 Z M341.00,143.12 C341.44,143.43 341.80,144.62 341.80,146.07 C341.80,147.14 340.20,147.14 340.20,146.07 C340.20,144.62 340.56,143.43 341.00,143.12 Z M423.10,145.22 C423.54,145.53 423.90,146.72 423.90,148.17 C423.90,149.24 422.30,149.24 422.30,148.17 C422.30,146.72 422.66,145.53 423.10,145.22 Z M323.12,144.69 C323.56,145.14 323.93,146.94 323.93,149.51 C323.93,150.58 322.32,150.58 322.32,149.51 C322.32,146.94 322.69,145.14 323.12,144.69 Z M405.23,146.79 C405.67,147.24 406.03,149.04 406.03,151.61 C406.03,152.68 404.43,152.68 404.43,151.61 C404.43,149.04 404.79,147.24 405.23,146.79 Z M330.00,145.94 C330.44,146.19 330.80,147.19 330.80,148.26 C330.80,149.33 329.20,149.33 329.20,148.26 C329.20,147.19 329.56,146.19 330.00,145.94 Z M412.10,148.04 C412.54,148.29 412.90,149.29 412.90,150.36 C412.90,151.43 411.30,151.43 411.30,150.36 C411.30,149.29 411.66,148.29 412.10,148.04 Z M345.00,147.25 C345.44,147.45 345.80,148.25 345.80,148.95 C345.80,150.01 344.20,150.01 344.20,148.95 C344.20,148.25 344.56,147.45 345.00,147.25 Z M427.10,149.35 C427.54,149.55 427.90,150.35 427.90,151.05 C427.90,152.11 426.30,152.11 426.30,151.05 C426.30,150.35 426.66,149.55 427.10,149.35 Z M334.60,140.50 C335.04,140.82 335.40,142.10 335.40,143.70 C335.40,144.76 333.80,144.76 333.80,143.70 C333.80,142.10 334.16,140.82 334.60,140.50 Z M341.00,143.00 C341.44,143.32 341.80,144.60 341.80,146.20 C341.80,147.26 340.20,147.26 340.20,146.20 C340.20,144.60 340.56,143.32 341.00,143.00 Z M349.40,142.40 C349.84,142.72 350.20,144.00 350.20,145.60 C350.20,146.66 348.60,146.66 348.60,145.60 C348.60,144.00 348.96,142.72 349.40,142.40 Z M345.00,146.50 C345.44,146.82 345.80,148.10 345.80,149.70 C345.80,150.76 344.20,150.76 344.20,149.70 C344.20,148.10 344.56,146.82 345.00,146.50 Z M405.00,147.75 C405.44,148.07 405.80,149.35 405.80,150.95 C405.80,152.01 404.20,152.01 404.20,150.95 C404.20,149.35 404.56,148.07 405.00,147.75 Z M412.10,148.00 C412.54,148.32 412.90,149.60 412.90,151.20 C412.90,152.26 411.30,152.26 411.30,151.20 C411.30,149.60 411.66,148.32 412.10,148.00 Z M427.25,148.60 C427.69,148.92 428.05,150.20 428.05,151.80 C428.05,152.86 426.45,152.86 426.45,151.80 C426.45,150.20 426.81,148.92 427.25,148.60 Z M431.50,144.50 C431.94,144.82 432.30,146.10 432.30,147.70 C432.30,148.76 430.70,148.76 430.70,147.70 C430.70,146.10 431.06,144.82 431.50,144.50 Z M423.10,145.25 C423.54,145.57 423.90,146.85 423.90,148.45 C423.90,149.51 422.30,149.51 422.30,148.45 C422.30,146.85 422.66,145.57 423.10,145.25 Z M427.50,139.25 C427.94,139.57 428.30,140.85 428.30,142.45 C428.30,143.51 426.70,143.51 426.70,142.45 C426.70,140.85 427.06,139.57 427.50,139.25 Z " fill="#1c9fe8"/>
<use href="#cloud"/>
<use href="#cloud" x="65.25"/>
<rect x="319.10" y="156.40" width="195.65" height="11.30" fill="url(#gr1b)"/><path d="M319.10,166.70 L319.59,159.75 L320.03,159.95 L319.99,166.70 Z M320.71,166.70 L321.14,158.18 L321.72,158.38 L321.85,166.70 Z M322.95,166.70 L323.50,156.51 L323.94,156.71 L323.82,166.70 Z M324.77,166.70 L325.05,156.41 L325.72,156.61 L326.11,166.70 Z M326.94,166.70 L327.58,160.14 L328.06,160.34 L327.90,166.70 Z M328.27,166.70 L328.92,158.54 L329.33,158.74 L329.09,166.70 Z M330.03,166.70 L329.80,158.07 L330.27,158.27 L330.98,166.70 Z M331.60,166.70 L331.61,158.36 L332.16,158.56 L332.70,166.70 Z M333.17,166.70 L333.20,158.22 L333.68,158.42 L334.13,166.70 Z M334.50,166.70 L334.99,158.60 L335.68,158.80 L335.89,166.70 Z M336.02,166.70 L336.02,159.80 L336.77,160.00 L337.52,166.70 Z M337.72,166.70 L338.49,159.21 L339.14,159.41 L339.03,166.70 Z M339.53,166.70 L339.68,159.05 L340.37,159.25 L340.91,166.70 Z M341.53,166.70 L341.89,159.75 L342.60,159.95 L342.95,166.70 Z M343.54,166.70 L344.04,157.36 L344.46,157.56 L344.37,166.70 Z M345.34,166.70 L345.77,158.57 L346.23,158.77 L346.26,166.70 Z M347.45,166.70 L347.72,158.14 L348.25,158.34 L348.51,166.70 Z M349.68,166.70 L349.96,157.96 L350.55,158.16 L350.85,166.70 Z M351.02,166.70 L351.71,159.18 L352.12,159.38 L351.85,166.70 Z M353.03,166.70 L353.30,157.07 L353.84,157.27 L354.11,166.70 Z M355.51,166.70 L356.20,158.53 L356.87,158.73 L356.85,166.70 Z M357.09,166.70 L357.45,160.17 L358.03,160.37 L358.25,166.70 Z M358.94,166.70 L359.64,158.57 L360.14,158.77 L359.93,166.70 Z M360.24,166.70 L360.97,159.65 L361.64,159.85 L361.59,166.70 Z M362.43,166.70 L362.84,158.45 L363.52,158.65 L363.80,166.70 Z M364.24,166.70 L364.52,159.84 L364.94,160.04 L365.08,166.70 Z M365.78,166.70 L365.93,158.32 L366.51,158.52 L366.94,166.70 Z M367.50,166.70 L367.91,158.87 L368.49,159.07 L368.68,166.70 Z M369.35,166.70 L369.23,157.31 L369.64,157.51 L370.17,166.70 Z M371.35,166.70 L372.00,159.56 L372.70,159.76 L372.75,166.70 Z M373.63,166.70 L374.05,159.73 L374.54,159.93 L374.61,166.70 Z M375.03,166.70 L375.49,156.46 L375.89,156.66 L375.84,166.70 Z M376.63,166.70 L376.69,158.87 L377.13,159.07 L377.51,166.70 Z M378.01,166.70 L377.91,158.49 L378.36,158.69 L378.92,166.70 Z M379.64,166.70 L379.79,158.20 L380.44,158.40 L380.94,166.70 Z M381.51,166.70 L381.63,157.93 L382.04,158.13 L382.33,166.70 Z M383.03,166.70 L383.26,159.96 L383.70,160.16 L383.91,166.70 Z M384.59,166.70 L384.41,159.63 L385.02,159.83 L385.81,166.70 Z M385.91,166.70 L385.79,159.24 L386.24,159.44 L386.81,166.70 Z M388.05,166.70 L388.09,158.55 L388.73,158.75 L389.33,166.70 Z M390.52,166.70 L390.59,158.44 L391.27,158.64 L391.88,166.70 Z M392.60,166.70 L392.69,158.68 L393.23,158.88 L393.68,166.70 Z M394.66,166.70 L395.34,157.58 L395.76,157.78 L395.50,166.70 Z M397.01,166.70 L397.07,159.80 L397.58,160.00 L398.02,166.70 Z M399.44,166.70 L399.52,158.05 L400.18,158.25 L400.76,166.70 Z M400.75,166.70 L401.42,156.55 L402.13,156.75 L402.16,166.70 Z M403.20,166.70 L403.87,157.08 L404.47,157.28 L404.40,166.70 Z M405.67,166.70 L405.87,158.41 L406.52,158.61 L406.96,166.70 Z M407.39,166.70 L407.56,159.07 L408.03,159.27 L408.33,166.70 Z M408.92,166.70 L408.93,159.03 L409.37,159.23 L409.79,166.70 Z M410.82,166.70 L411.48,159.85 L411.99,160.05 L411.85,166.70 Z M412.14,166.70 L412.86,157.70 L413.33,157.90 L413.08,166.70 Z M414.38,166.70 L414.81,157.24 L415.33,157.44 L415.42,166.70 Z M416.68,166.70 L417.43,157.76 L418.16,157.96 L418.14,166.70 Z M418.81,166.70 L418.83,160.30 L419.40,160.50 L419.95,166.70 Z M420.98,166.70 L421.61,157.07 L422.04,157.27 L421.84,166.70 Z M422.54,166.70 L423.21,158.77 L423.88,158.97 L423.87,166.70 Z M424.28,166.70 L424.90,157.55 L425.42,157.75 L425.32,166.70 Z M426.30,166.70 L426.30,159.91 L427.04,160.11 L427.77,166.70 Z M428.26,166.70 L428.05,156.55 L428.49,156.75 L429.14,166.70 Z M430.60,166.70 L430.78,159.68 L431.46,159.88 L431.95,166.70 Z M432.64,166.70 L433.05,157.90 L433.72,158.10 L433.99,166.70 Z M434.21,166.70 L434.81,157.45 L435.24,157.65 L435.07,166.70 Z M436.19,166.70 L436.33,158.21 L437.05,158.41 L437.63,166.70 Z M438.43,166.70 L438.95,156.45 L439.64,156.65 L439.81,166.70 Z M439.84,166.70 L439.60,159.90 L440.04,160.10 L440.72,166.70 Z M441.43,166.70 L441.42,158.07 L442.16,158.27 L442.92,166.70 Z M442.93,166.70 L442.77,159.34 L443.26,159.54 L443.90,166.70 Z M445.32,166.70 L446.00,160.24 L446.53,160.44 L446.39,166.70 Z M446.98,166.70 L446.82,158.29 L447.31,158.49 L447.95,166.70 Z M449.06,166.70 L449.75,156.44 L450.16,156.64 L449.89,166.70 Z M450.71,166.70 L450.83,158.18 L451.44,158.38 L451.93,166.70 Z M452.09,166.70 L452.92,160.24 L453.64,160.44 L453.53,166.70 Z M453.52,166.70 L454.24,158.84 L454.71,159.04 L454.47,166.70 Z M455.47,166.70 L455.55,159.02 L456.19,159.22 L456.76,166.70 Z M457.42,166.70 L457.26,157.37 L457.77,157.57 L458.44,166.70 Z M459.06,166.70 L459.58,158.17 L460.33,158.37 L460.55,166.70 Z M461.13,166.70 L461.30,157.94 L462.03,158.14 L462.59,166.70 Z M462.83,166.70 L463.47,159.75 L463.98,159.95 L463.85,166.70 Z M464.49,166.70 L464.83,158.55 L465.34,158.75 L465.52,166.70 Z M466.50,166.70 L466.49,156.48 L466.98,156.68 L467.48,166.70 Z M467.89,166.70 L467.76,156.68 L468.35,156.88 L469.08,166.70 Z M469.95,166.70 L470.20,159.53 L470.70,159.73 L470.96,166.70 Z M472.29,166.70 L472.81,158.38 L473.26,158.58 L473.20,166.70 Z M473.68,166.70 L474.32,157.09 L475.06,157.29 L475.15,166.70 Z M476.16,166.70 L476.11,157.66 L476.80,157.86 L477.54,166.70 Z M478.08,166.70 L478.83,157.56 L479.56,157.76 L479.52,166.70 Z M479.55,166.70 L479.73,156.53 L480.44,156.73 L480.99,166.70 Z M481.93,166.70 L482.61,159.99 L483.30,160.19 L483.30,166.70 Z M484.13,166.70 L484.38,157.10 L485.02,157.30 L485.41,166.70 Z M485.62,166.70 L485.70,159.04 L486.35,159.24 L486.92,166.70 Z M487.00,166.70 L487.41,159.60 L488.15,159.80 L488.47,166.70 Z M488.95,166.70 L489.19,158.19 L489.89,158.39 L490.34,166.70 Z M490.65,166.70 L491.04,156.50 L491.53,156.70 L491.63,166.70 Z M492.45,166.70 L492.61,156.65 L493.21,156.85 L493.65,166.70 Z M493.92,166.70 L494.47,157.42 L494.91,157.62 L494.81,166.70 Z M495.69,166.70 L495.70,158.82 L496.24,159.02 L496.78,166.70 Z M497.00,166.70 L497.45,158.38 L498.03,158.58 L498.17,166.70 Z M498.83,166.70 L498.89,159.29 L499.53,159.49 L500.11,166.70 Z M500.72,166.70 L500.92,157.29 L501.49,157.49 L501.86,166.70 Z M502.70,166.70 L502.83,160.03 L503.55,160.23 L504.13,166.70 Z M504.77,166.70 L504.99,156.68 L505.41,156.88 L505.61,166.70 Z M507.13,166.70 L507.74,159.43 L508.19,159.63 L508.04,166.70 Z M508.80,166.70 L508.99,159.76 L509.63,159.96 L510.08,166.70 Z M510.94,166.70 L511.63,158.75 L512.28,158.95 L512.26,166.70 Z M513.32,166.70 L513.36,158.66 L514.10,158.86 L514.75,166.70 Z " fill="url(#gr1)"/><path d="M320.10,158.14 L320.31,165.24 M322.76,159.46 L322.63,165.77 M326.80,158.00 L326.43,165.82 M332.25,159.81 L332.06,165.45 M337.48,160.24 L337.70,163.68 M342.51,159.39 L342.47,165.71 M347.78,160.27 L348.02,164.56 M351.58,158.00 L351.28,164.36 M356.81,160.24 L356.89,163.61 M360.53,157.86 L360.33,164.25 M365.28,157.54 L365.23,163.87 M367.84,159.30 L368.11,165.37 M370.96,158.33 L370.78,165.14 M375.22,158.24 L375.45,165.65 M380.15,160.28 L380.14,165.15 M385.21,159.70 L385.12,165.24 M388.57,157.84 L388.26,166.10 M393.31,159.07 L393.52,166.67 M398.73,157.92 L398.79,164.99 M402.16,158.95 L402.19,164.47 M404.67,158.78 L404.51,164.81 M408.36,159.74 L408.36,165.65 M412.81,158.60 L412.41,163.92 M416.14,159.22 L416.40,166.37 M420.17,160.32 L420.44,164.85 M423.90,159.63 L423.74,166.75 M426.91,159.28 L426.80,165.10 M429.42,158.63 L429.34,164.72 M434.50,159.18 L434.82,165.83 M439.25,158.92 L439.36,165.88 M443.70,159.31 L443.80,164.65 M448.10,160.18 L448.38,166.01 M452.90,159.83 L452.78,165.37 M456.19,159.53 L456.23,166.34 M459.15,159.88 L459.12,164.93 M461.79,158.97 L461.72,165.87 M465.35,159.39 L465.36,163.25 M470.69,159.48 L470.84,164.63 M475.01,158.12 L475.31,163.93 M478.31,157.74 L478.33,166.18 M481.92,158.98 L481.65,165.84 M486.38,159.55 L486.19,166.13 M490.71,158.19 L490.44,165.21 M495.58,159.98 L495.35,164.37 M500.97,159.53 L500.59,166.23 M506.16,159.29 L506.11,164.32 M510.95,159.75 L511.05,163.87 " stroke="#fff" stroke-width="0.5" opacity="0.5" fill="none"/>
<path d="M491.25,114.5 C500,101.8 513,97.6 525,97.6 C538,97.8 550,103.6 560,111.8" fill="none" stroke="#000" stroke-width="2.3"/>
<path d="M564.9,115 L557.2,114.7 L562.9,107.9 Z" fill="#000" stroke="#000" stroke-width="1.2" stroke-linejoin="round"/>
<path d="M397.5,115 C425.5,85.5 471,50.6 520,49.8 C556,50 586,70 603,89.5" fill="none" stroke="#000" stroke-width="4.2"/>
<path d="M610.9,95.9 L598.9,93.9 L609.4,84 Z" fill="#000" stroke="#000" stroke-width="2" stroke-linejoin="round"/>
<rect x="359.75" y="132.5" width="2.3" height="33.8" fill="#000"/>
<rect x="395" y="132.5" width="2.3" height="33.8" fill="#000"/>
<ellipse cx="378.5" cy="128.75" rx="21.3" ry="7.75" fill="url(#pl)"/>
<ellipse cx="378.5" cy="129.6" rx="18.4" ry="5.7" fill="#f8ddd8"/>
<ellipse cx="378.3" cy="129.9" rx="16.7" ry="4.6" fill="#e0b0a8"/>
<path d="M364.75,162.4 L364.75,198.5 A14 4.8 0 0 0 392.75,198.5 L392.75,162.4 Z" fill="url(#bk)" stroke="#999" stroke-width="0.4"/>
<path d="M364.9,179.4 Q378.75,187.5 392.6,179.4 L392.6,198.5 A13.85 4.7 0 0 1 364.9,198.5 Z" fill="#066fd6"/>
<ellipse cx="378.75" cy="162.4" rx="14" ry="6.3" fill="#f8fbfe" stroke="#6a6a6a" stroke-width="0.5"/>
<path d="M376.3,189.8 L380.2,186.8" stroke="#062f5c" stroke-width="1.5" stroke-linecap="round"/>
<ellipse cx="369.8" cy="196" rx="2.2" ry="1.5" fill="#04182e"/>
<ellipse cx="385.9" cy="195.9" rx="2.4" ry="1.2" fill="#04203c"/>
<use href="#ant" transform="translate(332.00,158.00) scale(0.950)"/>
<use href="#worm" transform="translate(415.60,158.00) rotate(0) scale(0.900)"/>
<use href="#beetle" transform="translate(449.60,157.40) scale(1.000)"/>
<rect x="455" y="120.6" width="36.9" height="10" rx="4.6" fill="#0a0a0a"/>
<rect x="469" y="130" width="8.9" height="10.8" fill="#0a0a0a"/>
<path d="M470.01,141.20 L477.32,142.55 L470.15,143.90 L477.18,145.25 L470.29,146.60 L477.04,147.95 L470.43,149.30 L476.90,150.65 L470.57,152.00 L476.76,153.35 L470.71,154.70 L476.62,156.05 L470.84,157.40 L476.49,158.75 L470.98,160.10 L476.35,161.45 L471.12,162.80 L476.21,164.15 L471.26,165.50 L476.07,166.85 L471.40,168.20 L475.93,169.55 L471.54,170.90 L475.79,172.25 L471.68,173.60" stroke="#0c0c0c" stroke-width="1.15" fill="none" stroke-linejoin="round"/>
<path d="M473.7,141 L473.7,173.4" stroke="#222" stroke-width="1.1" opacity="0.75"/>
<rect x="469" y="130.4" width="8.9" height="0.6" fill="#555"/>
<path d="M549.4,161.4 L668.4,161.4 L692.3,190 L692.3,193.8 Q692.3,194.8 691.3,194.8 L526.4,194.8 Q525.4,194.8 525.4,193.8 L525.4,190 Z" fill="url(#wood)"/>
<path d="M529,191.8 L689,191.8" stroke="#d9ad74" stroke-width="1.1" opacity="0.75"/>
<path d="M574.3,123.8 L574.3,135.8 C574.3,137.5 573.6,138.8 572.8,140.4 L564.8,156.5 Q563.5,161.2 568,161.2 L590.5,161.2 Q595,161.2 593.6,156.5 L585.4,140.4 C584.6,138.8 583.9,137.5 583.9,135.8 L583.9,123.8 Z" fill="#fff" stroke="#868686" stroke-width="0.85"/>
<path d="M570.2,146.2 L588.3,146.2 L593.1,156.6 Q594.3,160.7 590.4,160.7 L568.1,160.7 Q564.2,160.7 565.4,156.6 Z" fill="#fb4ff2"/>
<path d="M572.7,123.4 L585.3,123.4" stroke="#868686" stroke-width="1.1"/>
<path d="M580,129.5 L583,129.5 M580,135.8 L583,135.8 M581.5,142.3 L585.5,142.3 M585,147.5 L588,147.5 M587.5,153 L590.5,153" stroke="#999" stroke-width="0.5"/>
<path d="M567.5,157.5 Q568,153 570.5,149.5" stroke="#fbd0f8" stroke-width="0.9" fill="none" stroke-linecap="round"/>
<text x="571.60" y="151.70" font-size="6.4" font-weight="bold" style="text-rendering:geometricPrecision" fill="#111" stroke="#111" stroke-width="0.25" text-anchor="start" textLength="11.60" lengthAdjust="spacingAndGlyphs">C N</text>
<text x="573.00" y="161.30" font-size="6.4" font-weight="bold" style="text-rendering:geometricPrecision" fill="#111" stroke="#111" stroke-width="0.25" text-anchor="start" textLength="10.60" lengthAdjust="spacingAndGlyphs">P K</text>
<rect x="607.6" y="158.3" width="53.2" height="3.1" rx="1.5" fill="#000"/><path d="M625.6,123.6 C613.5,124.6 609,136 610.6,143.6 C612,148.8 615,151.6 618.6,153.4 L620.4,147 C618.6,145.2 617.6,142.4 617.8,138.4 C618.2,133.4 621.4,130.6 626,129.8 Z" fill="#000"/><path d="M616.4,158.4 L618.9,153.6 L618.4,148.6 C618.4,145.3 620.6,143.2 623.6,143.2 C626.8,143.2 629.1,145.4 629.1,148.6 L629.1,158.4 Z" fill="#000"/><circle cx="623.5" cy="148.5" r="2.7" fill="#fff"/><circle cx="623.5" cy="148.5" r="1.9" fill="#000"/><circle cx="623.5" cy="148.5" r="0.85" fill="#fff"/><g transform="translate(1.7,1.3) rotate(-21 636 128)"><rect x="630.6" y="106.8" width="8.2" height="2.6" fill="#000"/><rect x="632.6" y="110.2" width="4.4" height="3.2" fill="#000"/><rect x="630.2" y="114" width="9.2" height="22.5" fill="#000"/><rect x="632.5" y="137.3" width="4.6" height="4" fill="#000"/></g><circle cx="630.2" cy="126.7" r="6" fill="#000"/><circle cx="630.2" cy="126.7" r="4.75" fill="none" stroke="#fff" stroke-width="0.55"/><circle cx="630.2" cy="126.7" r="2.7" fill="#fff"/><circle cx="630.2" cy="126.7" r="1.8" fill="#000"/><circle cx="630.2" cy="126.7" r="0.85" fill="#fff"/><path d="M634.5,150.2 L650.5,147.6 L651,150 L635,152.8 Z" fill="#000"/><rect x="640.8" y="152.8" width="5.2" height="4.2" fill="#000"/>
<rect x="314.1" y="203.75" width="390.7" height="1.25" fill="#6a6a6a"/>
<use href="#seed" transform="translate(387.50,257.20) scale(0.820)"/>
<use href="#seed" transform="translate(430.00,257.20) scale(0.820)"/>
<use href="#seed" transform="translate(468.75,257.20) scale(0.820)"/>
<use href="#seed" transform="translate(374.30,299.20) scale(0.820)"/>
<use href="#seed" transform="translate(409.00,299.20) scale(0.820)"/>
<use href="#seed" transform="translate(444.30,299.20) scale(0.820)"/>
<use href="#seed" transform="translate(479.50,299.20) scale(0.820)"/>
<use href="#seed" transform="translate(370.00,337.45) scale(0.820)"/>
<use href="#seed" transform="translate(400.75,337.45) scale(0.820)"/>
<use href="#seed" transform="translate(431.25,337.45) scale(0.820)"/>
<use href="#seed" transform="translate(460.75,337.45) scale(0.820)"/>
<use href="#seed" transform="translate(492.00,337.45) scale(0.820)"/>
<use href="#seed" transform="translate(347.50,372.45) scale(0.820)"/>
<use href="#seed" transform="translate(377.50,372.45) scale(0.820)"/>
<use href="#seed" transform="translate(408.75,372.45) scale(0.820)"/>
<use href="#seed" transform="translate(437.50,372.45) scale(0.820)"/>
<use href="#seed" transform="translate(468.75,372.45) scale(0.820)"/>
<use href="#seed" transform="translate(500.75,372.45) scale(0.820)"/>
<use href="#tree" x="341.20" y="214.40" width="32.60" height="50.00"/>
<use href="#tree" x="331.20" y="245.70" width="35.00" height="54.00"/>
<use href="#tree" x="321.20" y="278.00" width="36.50" height="57.00"/>
<use href="#tree" x="304.10" y="314.70" width="40.40" height="60.90"/>
<use href="#tree" x="478.70" y="214.40" width="32.60" height="50.00"/>
<use href="#tree" x="488.70" y="245.70" width="34.60" height="54.00"/>
<use href="#tree" x="497.50" y="278.00" width="37.00" height="57.00"/>
<use href="#tree" x="511.00" y="314.70" width="39.80" height="60.90"/>
<use href="#beetle" transform="translate(407.90,259.10) scale(0.950)"/>
<use href="#worm" transform="translate(378.25,268.00) rotate(-35) scale(0.850)"/>
<use href="#worm" transform="translate(430.50,267.50) rotate(-5) scale(0.850)"/>
<use href="#worm" transform="translate(477.50,268.25) rotate(38) scale(0.850)"/>
<use href="#beetle" transform="translate(463.70,281.00) scale(0.950)"/>
<use href="#ant" transform="translate(364.00,310.00) scale(0.900)"/>
<use href="#ant" transform="translate(427.00,310.00) scale(0.900)"/>
<use href="#ant" transform="translate(494.50,310.00) scale(0.900)"/>
<use href="#ant" transform="translate(347.50,318.50) scale(0.900)"/>
<use href="#ant" transform="translate(507.00,318.00) scale(0.900)"/>
<use href="#beetle" transform="translate(388.00,320.00) scale(0.950)"/>
<use href="#worm" transform="translate(476.25,319.00) rotate(-38) scale(0.850)"/>
<use href="#beetle" transform="translate(353.25,345.75) scale(0.950)"/>
<use href="#beetle" transform="translate(433.25,345.75) scale(0.950)"/>
<use href="#beetle" transform="translate(510.50,345.75) scale(0.950)"/>
<use href="#worm" transform="translate(393.25,353.25) rotate(-38) scale(0.850)"/>
<use href="#worm" transform="translate(486.25,353.25) rotate(-38) scale(0.850)"/>
<use href="#worm" transform="translate(453.75,363.25) rotate(-38) scale(0.850)"/>
<use href="#beetle" transform="translate(333.75,365.00) scale(0.950)"/>
<use href="#beetle" transform="translate(522.00,360.00) scale(0.950)"/>
<g transform="translate(0,0)" fill="#ff0a0a"><path d="M369.9,305.6 C376,296.5 386,293.7 393,293.7 C401,293.7 408.5,296.6 415.5,300.8" fill="none" stroke="#ff0a0a" stroke-width="1.8" stroke-linecap="round"/><path d="M411.7,294.6 Q412.6,293.3 413.8,294.2 L419.4,300.2 Q420.2,302.3 418.2,302.9 L407.2,305.2 Q405.8,305 406.9,303.8 Q410,301.9 415.6,300.9 Z"/></g>
<g transform="translate(70.9,0)" fill="#ff0a0a"><path d="M369.9,305.6 C376,296.5 386,293.7 393,293.7 C401,293.7 408.5,296.6 415.5,300.8" fill="none" stroke="#ff0a0a" stroke-width="1.8" stroke-linecap="round"/><path d="M411.7,294.6 Q412.6,293.3 413.8,294.2 L419.4,300.2 Q420.2,302.3 418.2,302.9 L407.2,305.2 Q405.8,305 406.9,303.8 Q410,301.9 415.6,300.9 Z"/></g>
<g transform="translate(0,0)" fill="#ff0a0a"><path d="M419.9,343.4 C414.5,335 405,330 393.4,330 C385,330 377,333 371.5,337.6" fill="none" stroke="#ff0a0a" stroke-width="1.8" stroke-linecap="round"/><path d="M373.6,330.8 Q374.8,330.4 375,331.8 L372.6,337.6 Q377,338.6 380.8,341.6 Q381.6,343 380.2,342.9 L369.2,340.4 Q367.2,339.6 368,337.6 Z"/></g>
<g transform="translate(77.6,0)" fill="#ff0a0a"><path d="M419.9,343.4 C414.5,335 405,330 393.4,330 C385,330 377,333 371.5,337.6" fill="none" stroke="#ff0a0a" stroke-width="1.8" stroke-linecap="round"/><path d="M373.6,330.8 Q374.8,330.4 375,331.8 L372.6,337.6 Q377,338.6 380.8,341.6 Q381.6,343 380.2,342.9 L369.2,340.4 Q367.2,339.6 368,337.6 Z"/></g>
<use href="#worm" transform="translate(415.25,335.60) rotate(42) scale(0.850)"/>
<text x="306.90" y="283.10" font-size="9.6" font-weight="bold" style="text-rendering:geometricPrecision" fill="#141414" stroke="#141414" stroke-width="0.3" text-anchor="start" textLength="17.50" lengthAdjust="spacingAndGlyphs">TOC</text>
<path d="M316.3,286 L321.5,292 L317.85,292 L317.85,311.3 L314.75,311.3 L314.75,292 L311.1,292 Z" fill="#000"/>
<text x="304.80" y="393.60" font-size="9.6" font-weight="bold" style="text-rendering:geometricPrecision" fill="#141414" stroke="#141414" stroke-width="0.3" text-anchor="start" textLength="39.00" lengthAdjust="spacingAndGlyphs">EUCROW</text>
<text x="415.90" y="392.90" font-size="9.6" font-weight="bold" style="text-rendering:geometricPrecision" fill="#141414" stroke="#141414" stroke-width="0.3" text-anchor="start" textLength="35.00" lengthAdjust="spacingAndGlyphs">SOYEUC</text>
<text x="583.90" y="393.60" font-size="9.6" font-weight="bold" style="text-rendering:geometricPrecision" fill="#141414" stroke="#141414" stroke-width="0.3" text-anchor="start" textLength="34.20" lengthAdjust="spacingAndGlyphs">SOYREC</text>
<text x="685.20" y="393.60" font-size="9.6" font-weight="bold" style="text-rendering:geometricPrecision" fill="#141414" stroke="#141414" stroke-width="0.3" text-anchor="start" textLength="29.90" lengthAdjust="spacingAndGlyphs">SOYNT</text>
<path d="M555.5,210.9 L555.5,409.2" stroke="#000" stroke-width="3.3" stroke-dasharray="3.2 4.0" fill="none"/>
<path d="M641.7,210.9 L641.7,409.2" stroke="#000" stroke-width="3.3" stroke-dasharray="3.2 4.0" fill="none"/>
<use href="#seed" transform="translate(575.60,252.45) scale(1.000)"/>
<use href="#seed" transform="translate(615.75,252.45) scale(1.000)"/>
<use href="#seed" transform="translate(575.60,289.95) scale(1.000)"/>
<use href="#seed" transform="translate(615.75,289.95) scale(1.000)"/>
<use href="#seed" transform="translate(575.60,330.20) scale(1.000)"/>
<use href="#seed" transform="translate(615.75,330.20) scale(1.000)"/>
<use href="#seed" transform="translate(575.60,370.45) scale(1.000)"/>
<use href="#seed" transform="translate(615.75,370.45) scale(1.000)"/>
<use href="#seed" transform="translate(661.25,253.70) scale(1.000)"/>
<use href="#seed" transform="translate(661.25,291.20) scale(1.000)"/>
<use href="#seed" transform="translate(661.25,331.20) scale(1.000)"/>
<use href="#seed" transform="translate(661.25,371.70) scale(1.000)"/>
<use href="#seed" transform="translate(692.50,254.95) scale(1.000)"/>
<use href="#seed" transform="translate(692.50,292.45) scale(1.000)"/>
<use href="#seed" transform="translate(692.50,332.45) scale(1.000)"/>
<use href="#seed" transform="translate(692.50,372.95) scale(1.000)"/>
<use href="#worm" transform="translate(598.25,263.25) rotate(-38) scale(0.850)"/>
<use href="#ant" transform="translate(630.75,263.25) scale(0.900)"/>
<use href="#beetle" transform="translate(596.25,300.50) scale(0.950)"/>
<use href="#worm" transform="translate(598.25,340.75) rotate(-38) scale(0.850)"/>
<use href="#beetle" transform="translate(677.00,225.90) scale(0.950)"/>
<use href="#ant" transform="translate(678.25,264.00) scale(0.900)"/>
<use href="#ant" transform="translate(679.50,342.50) scale(0.900)"/>
<rect x="311.2" y="416.3" width="390.7" height="1.45" fill="#757575"/>
<path d="M504,417.6 L504,542.4" stroke="#707070" stroke-width="1.4" stroke-dasharray="1.25 1.15" fill="none"/>
<text x="387.90" y="436.00" font-size="9.6" font-weight="bold" style="text-rendering:geometricPrecision" fill="#141414" stroke="#141414" stroke-width="0.3" text-anchor="start" textLength="32.50" lengthAdjust="spacingAndGlyphs">FOREST</text>
<text x="392.90" y="446.80" font-size="9.6" font-weight="bold" style="text-rendering:geometricPrecision" fill="#141414" stroke="#141414" stroke-width="0.3" text-anchor="start" textLength="20.00" lengthAdjust="spacingAndGlyphs">2017</text>
<text x="595.80" y="436.00" font-size="9.6" font-weight="bold" style="text-rendering:geometricPrecision" fill="#141414" stroke="#141414" stroke-width="0.3" text-anchor="start" textLength="32.40" lengthAdjust="spacingAndGlyphs">FOREST</text>
<text x="602.00" y="446.80" font-size="9.6" font-weight="bold" style="text-rendering:geometricPrecision" fill="#141414" stroke="#141414" stroke-width="0.3" text-anchor="start" textLength="20.60" lengthAdjust="spacingAndGlyphs">2019</text>
<text x="563.80" y="456.50" font-size="9.6" font-weight="bold" style="text-rendering:geometricPrecision" fill="#141414" stroke="#141414" stroke-width="0.3" text-anchor="start" textLength="17.50" lengthAdjust="spacingAndGlyphs">TOC</text>
<path d="M572.8,459.8 L578.3,466.2 L574.4,466.2 L574.4,485 L571.2,485 L571.2,466.2 L567.3,466.2 Z" fill="#000"/>
<use href="#bare" transform="translate(332.30,551.00) scale(1.000,1.000)"/>
<use href="#bare" transform="translate(384.20,551.00) scale(0.640,0.630)"/>
<use href="#bare" transform="translate(429.50,551.00) scale(0.777,0.777)"/>
<use href="#bare" transform="translate(463.20,549.50) scale(1.110,1.095)"/>
<path d="M307.10,553.9 C306.10,551.4 306.94,549.4 307.84,547.9 C308.80,546.3 307.40,544.4 308.10,542.6 C308.40,541.3 308.70,540.93 309.20,539.93 C310.20,542.13 309.80,542.9 310.40,544.6999999999999 C311.00,546.3 310.04,547.9 310.64,549.5 C311.20,550.9 311.60,552.4 311.20,553.9 Z M311.90,553.9 C311.30,552.1 312.10,550.3 312.94,546.45 C314.10,549.5 315.10,551.6999999999999 314.70,553.9 Z M315.98,553.9 C314.98,551.4 315.78,549.4 316.68,547.9 C317.68,546.3 316.28,544.4 316.98,542.6 C317.28,541.3 317.58,540.95 318.08,539.95 C319.08,542.15 318.68,542.9 319.28,544.6999999999999 C319.88,546.3 318.88,547.9 319.48,549.5 C320.08,550.9 320.48,552.4 320.08,553.9 Z M320.78,553.9 C320.18,552.1 320.98,550.3 321.78,547.13 C322.98,549.5 323.98,551.6999999999999 323.58,553.9 Z M324.86,553.9 C323.86,551.4 324.67,549.4 325.57,547.9 C326.56,546.3 325.16,544.4 325.86,542.6 C326.16,541.3 326.46,540.56 326.96,539.56 C327.96,541.76 327.56,542.9 328.16,544.6999999999999 C328.76,546.3 327.77,547.9 328.37,549.5 C328.96,550.9 329.36,552.4 328.96,553.9 Z M329.66,553.9 C329.06,552.1 329.86,550.3 330.67,547.04 C331.86,549.5 332.86,551.6999999999999 332.46,553.9 Z M333.74,553.9 C332.74,551.4 333.30,549.4 334.20,547.9 C335.44,546.3 334.04,544.4 334.74,542.6 C335.04,541.3 335.34,541.41 335.84,540.41 C336.84,542.61 336.44,542.9 337.04,544.6999999999999 C337.64,546.3 336.40,547.9 337.00,549.5 C337.84,550.9 338.24,552.4 337.84,553.9 Z M338.54,553.9 C337.94,552.1 338.74,550.3 339.30,547.69 C340.74,549.5 341.74,551.6999999999999 341.34,553.9 Z M342.62,553.9 C341.62,551.4 342.61,549.4 343.51,547.9 C344.32,546.3 342.92,544.4 343.62,542.6 C343.92,541.3 344.22,540.43 344.72,539.43 C345.72,541.63 345.32,542.9 345.92,544.6999999999999 C346.52,546.3 345.71,547.9 346.31,549.5 C346.72,550.9 347.12,552.4 346.72,553.9 Z M347.42,553.9 C346.82,552.1 347.62,550.3 348.61,546.91 C349.62,549.5 350.62,551.6999999999999 350.22,553.9 Z M351.50,553.9 C350.50,551.4 351.59,549.4 352.49,547.9 C353.20,546.3 351.80,544.4 352.50,542.6 C352.80,541.3 353.10,540.36 353.60,539.36 C354.60,541.56 354.20,542.9 354.80,544.6999999999999 C355.40,546.3 354.69,547.9 355.29,549.5 C355.60,550.9 356.00,552.4 355.60,553.9 Z M356.30,553.9 C355.70,552.1 356.50,550.3 357.59,546.37 C358.50,549.5 359.50,551.6999999999999 359.10,553.9 Z M360.38,553.9 C359.38,551.4 360.25,549.4 361.15,547.9 C362.08,546.3 360.68,544.4 361.38,542.6 C361.68,541.3 361.98,541.22 362.48,540.22 C363.48,542.42 363.08,542.9 363.68,544.6999999999999 C364.28,546.3 363.35,547.9 363.95,549.5 C364.48,550.9 364.88,552.4 364.48,553.9 Z M365.18,553.9 C364.58,552.1 365.38,550.3 366.25,547.99 C367.38,549.5 368.38,551.6999999999999 367.98,553.9 Z M369.26,553.9 C368.26,551.4 369.08,549.4 369.98,547.9 C370.96,546.3 369.56,544.4 370.26,542.6 C370.56,541.3 370.86,540.32 371.36,539.32 C372.36,541.52 371.96,542.9 372.56,544.6999999999999 C373.16,546.3 372.18,547.9 372.78,549.5 C373.36,550.9 373.76,552.4 373.36,553.9 Z M374.06,553.9 C373.46,552.1 374.26,550.3 375.08,548.18 C376.26,549.5 377.26,551.6999999999999 376.86,553.9 Z M378.14,553.9 C377.14,551.4 377.79,549.4 378.69,547.9 C379.84,546.3 378.44,544.4 379.14,542.6 C379.44,541.3 379.74,540.57 380.24,539.57 C381.24,541.77 380.84,542.9 381.44,544.6999999999999 C382.04,546.3 380.89,547.9 381.49,549.5 C382.24,550.9 382.64,552.4 382.24,553.9 Z M382.94,553.9 C382.34,552.1 383.14,550.3 383.79,548.24 C385.14,549.5 386.14,551.6999999999999 385.74,553.9 Z M387.02,553.9 C386.02,551.4 386.78,549.4 387.68,547.9 C388.72,546.3 387.32,544.4 388.02,542.6 C388.32,541.3 388.62,540.95 389.12,539.95 C390.12,542.15 389.72,542.9 390.32,544.6999999999999 C390.92,546.3 389.88,547.9 390.48,549.5 C391.12,550.9 391.52,552.4 391.12,553.9 Z M391.82,553.9 C391.22,552.1 392.02,550.3 392.78,546.62 C394.02,549.5 395.02,551.6999999999999 394.62,553.9 Z M395.90,553.9 C394.90,551.4 395.78,549.4 396.68,547.9 C397.60,546.3 396.20,544.4 396.90,542.6 C397.20,541.3 397.50,541.03 398.00,540.03 C399.00,542.23 398.60,542.9 399.20,544.6999999999999 C399.80,546.3 398.88,547.9 399.48,549.5 C400.00,550.9 400.40,552.4 400.00,553.9 Z M400.70,553.9 C400.10,552.1 400.90,550.3 401.78,547.30 C402.90,549.5 403.90,551.6999999999999 403.50,553.9 Z M404.78,553.9 C403.78,551.4 404.55,549.4 405.45,547.9 C406.48,546.3 405.08,544.4 405.78,542.6 C406.08,541.3 406.38,541.23 406.88,540.23 C407.88,542.43 407.48,542.9 408.08,544.6999999999999 C408.68,546.3 407.65,547.9 408.25,549.5 C408.88,550.9 409.28,552.4 408.88,553.9 Z M409.58,553.9 C408.98,552.1 409.78,550.3 410.55,547.74 C411.78,549.5 412.78,551.6999999999999 412.38,553.9 Z M413.66,553.9 C412.66,551.4 413.76,549.4 414.66,547.9 C415.36,546.3 413.96,544.4 414.66,542.6 C414.96,541.3 415.26,541.70 415.76,540.70 C416.76,542.90 416.36,542.9 416.96,544.6999999999999 C417.56,546.3 416.86,547.9 417.46,549.5 C417.76,550.9 418.16,552.4 417.76,553.9 Z M418.46,553.9 C417.86,552.1 418.66,550.3 419.76,546.62 C420.66,549.5 421.66,551.6999999999999 421.26,553.9 Z M422.54,553.9 C421.54,551.4 422.23,549.4 423.13,547.9 C424.24,546.3 422.84,544.4 423.54,542.6 C423.84,541.3 424.14,541.29 424.64,540.29 C425.64,542.49 425.24,542.9 425.84,544.6999999999999 C426.44,546.3 425.33,547.9 425.93,549.5 C426.64,550.9 427.04,552.4 426.64,553.9 Z M427.34,553.9 C426.74,552.1 427.54,550.3 428.23,547.84 C429.54,549.5 430.54,551.6999999999999 430.14,553.9 Z M431.42,553.9 C430.42,551.4 430.96,549.4 431.86,547.9 C433.12,546.3 431.72,544.4 432.42,542.6 C432.72,541.3 433.02,540.70 433.52,539.70 C434.52,541.90 434.12,542.9 434.72,544.6999999999999 C435.32,546.3 434.06,547.9 434.66,549.5 C435.52,550.9 435.92,552.4 435.52,553.9 Z M436.22,553.9 C435.62,552.1 436.42,550.3 436.96,546.77 C438.42,549.5 439.42,551.6999999999999 439.02,553.9 Z M440.30,553.9 C439.30,551.4 440.31,549.4 441.21,547.9 C442.00,546.3 440.60,544.4 441.30,542.6 C441.60,541.3 441.90,540.86 442.40,539.86 C443.40,542.06 443.00,542.9 443.60,544.6999999999999 C444.20,546.3 443.41,547.9 444.01,549.5 C444.40,550.9 444.80,552.4 444.40,553.9 Z M445.10,553.9 C444.50,552.1 445.30,550.3 446.31,547.53 C447.30,549.5 448.30,551.6999999999999 447.90,553.9 Z M449.18,553.9 C448.18,551.4 449.19,549.4 450.09,547.9 C450.88,546.3 449.48,544.4 450.18,542.6 C450.48,541.3 450.78,541.64 451.28,540.64 C452.28,542.84 451.88,542.9 452.48,544.6999999999999 C453.08,546.3 452.29,547.9 452.89,549.5 C453.28,550.9 453.68,552.4 453.28,553.9 Z M453.98,553.9 C453.38,552.1 454.18,550.3 455.19,548.30 C456.18,549.5 457.18,551.6999999999999 456.78,553.9 Z M458.06,553.9 C457.06,551.4 458.11,549.4 459.01,547.9 C459.76,546.3 458.36,544.4 459.06,542.6 C459.36,541.3 459.66,540.59 460.16,539.59 C461.16,541.79 460.76,542.9 461.36,544.6999999999999 C461.96,546.3 461.21,547.9 461.81,549.5 C462.16,550.9 462.56,552.4 462.16,553.9 Z M462.86,553.9 C462.26,552.1 463.06,550.3 464.11,547.36 C465.06,549.5 466.06,551.6999999999999 465.66,553.9 Z M466.94,553.9 C465.94,551.4 466.68,549.4 467.58,547.9 C468.64,546.3 467.24,544.4 467.94,542.6 C468.24,541.3 468.54,541.67 469.04,540.67 C470.04,542.87 469.64,542.9 470.24,544.6999999999999 C470.84,546.3 469.78,547.9 470.38,549.5 C471.04,550.9 471.44,552.4 471.04,553.9 Z M471.74,553.9 C471.14,552.1 471.94,550.3 472.68,548.15 C473.94,549.5 474.94,551.6999999999999 474.54,553.9 Z M475.82,553.9 C474.82,551.4 475.79,549.4 476.69,547.9 C477.52,546.3 476.12,544.4 476.82,542.6 C477.12,541.3 477.42,541.18 477.92,540.18 C478.92,542.38 478.52,542.9 479.12,544.6999999999999 C479.72,546.3 478.89,547.9 479.49,549.5 C479.92,550.9 480.32,552.4 479.92,553.9 Z M480.62,553.9 C480.02,552.1 480.82,550.3 481.79,547.76 C482.82,549.5 483.82,551.6999999999999 483.42,553.9 Z M484.70,553.9 C483.70,551.4 484.40,549.4 485.30,547.9 C486.40,546.3 485.00,544.4 485.70,542.6 C486.00,541.3 486.30,540.42 486.80,539.42 C487.80,541.62 487.40,542.9 488.00,544.6999999999999 C488.60,546.3 487.50,547.9 488.10,549.5 C488.80,550.9 489.20,552.4 488.80,553.9 Z M489.50,553.9 C488.90,552.1 489.70,550.3 490.40,546.37 C491.70,549.5 492.70,551.6999999999999 492.30,553.9 Z M493.58,553.9 C492.58,551.4 493.15,549.4 494.05,547.9 C495.28,546.3 493.88,544.4 494.58,542.6 C494.88,541.3 495.18,541.36 495.68,540.36 C496.68,542.56 496.28,542.9 496.88,544.6999999999999 C497.48,546.3 496.25,547.9 496.85,549.5 C497.68,550.9 498.08,552.4 497.68,553.9 Z M498.38,553.9 C497.78,552.1 498.58,550.3 499.15,547.81 C500.58,549.5 501.58,551.6999999999999 501.18,553.9 Z " fill="url(#fl)"/>
<rect x="307" y="553" width="195.3" height="0.9" fill="#da2230"/>
<use href="#tree" x="506.90" y="452.00" width="61.20" height="93.30"/>
<use href="#tree" x="571.25" y="478.75" width="43.75" height="66.50"/>
<use href="#tree" x="655.00" y="442.10" width="68.50" height="103.50"/>
<use href="#tree" x="616.25" y="461.25" width="55.00" height="84.00"/>
<rect x="505.50" y="541.70" width="216.90" height="12.90" fill="url(#gr2b)"/><path d="M505.50,553.60 L505.42,545.98 L506.16,546.18 L506.97,553.60 Z M506.90,553.60 L507.42,545.02 L508.11,545.22 L508.29,553.60 Z M508.57,553.60 L508.96,544.44 L509.57,544.64 L509.80,553.60 Z M510.06,553.60 L510.56,543.48 L511.11,543.68 L511.16,553.60 Z M512.56,553.60 L512.87,544.16 L513.60,544.36 L514.02,553.60 Z M514.18,553.60 L514.35,541.82 L514.76,542.02 L515.00,553.60 Z M515.86,553.60 L516.15,545.73 L516.68,545.93 L516.93,553.60 Z M517.83,553.60 L517.90,541.81 L518.38,542.01 L518.80,553.60 Z M519.30,553.60 L519.76,546.21 L520.34,546.41 L520.45,553.60 Z M520.81,553.60 L521.41,545.30 L522.12,545.50 L522.24,553.60 Z M523.20,553.60 L523.39,545.27 L524.06,545.47 L524.54,553.60 Z M525.68,553.60 L526.30,542.43 L527.04,542.63 L527.15,553.60 Z M527.84,553.60 L528.11,544.09 L528.67,544.29 L528.96,553.60 Z M530.25,553.60 L530.39,545.45 L530.96,545.65 L531.40,553.60 Z M532.61,553.60 L533.03,543.78 L533.75,543.98 L534.04,553.60 Z M535.01,553.60 L535.06,543.90 L535.71,544.10 L536.32,553.60 Z M536.70,553.60 L537.43,542.45 L538.08,542.65 L537.99,553.60 Z M538.32,553.60 L539.14,543.10 L539.86,543.30 L539.76,553.60 Z M540.47,553.60 L540.91,544.04 L541.49,544.24 L541.62,553.60 Z M542.48,553.60 L542.74,542.64 L543.25,542.84 L543.49,553.60 Z M544.90,553.60 L545.53,542.04 L546.14,542.24 L546.13,553.60 Z M547.07,553.60 L547.67,542.56 L548.39,542.76 L548.50,553.60 Z M548.44,553.60 L548.48,542.93 L549.11,543.13 L549.70,553.60 Z M550.79,553.60 L551.36,544.06 L551.80,544.26 L551.66,553.60 Z M552.38,553.60 L552.54,545.68 L553.02,545.88 L553.33,553.60 Z M554.54,553.60 L554.42,543.34 L554.83,543.54 L555.37,553.60 Z M556.65,553.60 L556.39,546.01 L556.82,546.21 L557.51,553.60 Z M558.83,553.60 L559.34,542.85 L559.75,543.05 L559.64,553.60 Z M560.31,553.60 L560.43,544.82 L560.90,545.02 L561.24,553.60 Z M561.67,553.60 L561.58,542.38 L562.32,542.58 L563.16,553.60 Z M563.38,553.60 L563.30,545.05 L563.92,545.25 L564.61,553.60 Z M565.08,553.60 L565.55,543.73 L565.97,543.93 L565.91,553.60 Z M567.27,553.60 L567.99,545.11 L568.71,545.31 L568.70,553.60 Z M569.42,553.60 L569.86,542.72 L570.43,542.92 L570.55,553.60 Z M571.10,553.60 L571.69,543.72 L572.13,543.92 L571.97,553.60 Z M572.55,553.60 L572.87,543.47 L573.47,543.67 L573.76,553.60 Z M574.02,553.60 L574.50,542.87 L575.23,543.07 L575.49,553.60 Z M575.83,553.60 L575.67,544.22 L576.08,544.42 L576.64,553.60 Z M577.20,553.60 L577.00,542.43 L577.41,542.63 L578.02,553.60 Z M579.26,553.60 L579.98,546.14 L580.56,546.34 L580.41,553.60 Z M581.75,553.60 L581.74,543.71 L582.22,543.91 L582.71,553.60 Z M583.76,553.60 L584.28,545.31 L584.90,545.51 L585.00,553.60 Z M585.37,553.60 L585.15,544.08 L585.69,544.28 L586.46,553.60 Z M586.71,553.60 L587.21,542.20 L587.75,542.40 L587.80,553.60 Z M588.30,553.60 L588.25,542.52 L588.68,542.72 L589.17,553.60 Z M589.86,553.60 L589.96,543.80 L590.54,544.00 L591.02,553.60 Z M591.93,553.60 L592.63,545.79 L593.11,545.99 L592.88,553.60 Z M594.11,553.60 L594.46,544.01 L595.01,544.21 L595.21,553.60 Z M595.47,553.60 L595.42,544.07 L595.97,544.27 L596.56,553.60 Z M596.88,553.60 L597.24,543.35 L597.92,543.55 L598.24,553.60 Z M599.29,553.60 L600.08,543.01 L600.69,543.21 L600.51,553.60 Z M601.03,553.60 L600.84,544.79 L601.24,544.99 L601.85,553.60 Z M602.70,553.60 L602.56,544.74 L603.26,544.94 L604.09,553.60 Z M604.54,553.60 L604.52,543.89 L605.06,544.09 L605.63,553.60 Z M606.55,553.60 L606.63,542.98 L607.06,543.18 L607.40,553.60 Z M608.97,553.60 L608.88,545.11 L609.30,545.31 L609.82,553.60 Z M610.96,553.60 L611.48,543.79 L612.01,543.99 L612.03,553.60 Z M612.73,553.60 L612.53,542.25 L612.97,542.45 L613.61,553.60 Z M615.05,553.60 L615.55,546.03 L616.18,546.23 L616.30,553.60 Z M616.38,553.60 L616.92,545.21 L617.55,545.41 L617.64,553.60 Z M618.28,553.60 L618.84,543.76 L619.36,543.96 L619.33,553.60 Z M619.90,553.60 L620.65,543.86 L621.23,544.06 L621.07,553.60 Z M622.16,553.60 L622.32,545.47 L623.05,545.67 L623.62,553.60 Z M623.74,553.60 L623.96,542.87 L624.53,543.07 L624.88,553.60 Z M625.86,553.60 L626.54,544.35 L627.26,544.55 L627.30,553.60 Z M627.27,553.60 L627.18,546.20 L627.71,546.40 L628.32,553.60 Z M629.07,553.60 L629.68,542.09 L630.10,542.29 L629.92,553.60 Z M631.56,553.60 L631.67,542.28 L632.30,542.48 L632.81,553.60 Z M633.14,553.60 L633.39,544.78 L634.03,544.98 L634.41,553.60 Z M635.07,553.60 L635.74,544.14 L636.17,544.34 L635.94,553.60 Z M637.27,553.60 L637.70,544.03 L638.14,544.23 L638.14,553.60 Z M638.88,553.60 L639.44,543.78 L640.15,543.98 L640.31,553.60 Z M640.67,553.60 L641.11,545.23 L641.86,545.43 L642.16,553.60 Z M642.14,553.60 L642.51,541.83 L643.07,542.03 L643.25,553.60 Z M644.50,553.60 L644.71,544.00 L645.18,544.20 L645.42,553.60 Z M646.28,553.60 L646.81,545.93 L647.46,546.13 L647.58,553.60 Z M648.15,553.60 L648.77,543.19 L649.50,543.39 L649.62,553.60 Z M650.24,553.60 L650.30,545.55 L650.97,545.75 L651.57,553.60 Z M652.29,553.60 L653.03,544.71 L653.58,544.91 L653.37,553.60 Z M654.35,553.60 L654.76,543.80 L655.17,544.00 L655.16,553.60 Z M656.71,553.60 L656.54,545.38 L657.17,545.58 L657.96,553.60 Z M659.14,553.60 L659.87,544.44 L660.53,544.64 L660.45,553.60 Z M661.50,553.60 L661.99,545.38 L662.42,545.58 L662.37,553.60 Z M663.04,553.60 L663.06,544.35 L663.72,544.55 L664.36,553.60 Z M665.31,553.60 L665.47,544.46 L665.91,544.66 L666.20,553.60 Z M666.91,553.60 L666.92,543.81 L667.51,544.01 L668.11,553.60 Z M669.37,553.60 L669.57,541.71 L669.99,541.91 L670.22,553.60 Z M671.68,553.60 L671.98,545.11 L672.61,545.31 L672.94,553.60 Z M673.79,553.60 L674.05,542.91 L674.56,543.11 L674.82,553.60 Z M675.12,553.60 L675.01,545.10 L675.43,545.30 L675.97,553.60 Z M677.32,553.60 L677.83,543.53 L678.51,543.73 L678.67,553.60 Z M679.56,553.60 L679.58,542.31 L680.28,542.51 L680.97,553.60 Z M681.32,553.60 L681.11,543.03 L681.68,543.23 L682.45,553.60 Z M683.29,553.60 L683.70,543.35 L684.44,543.55 L684.77,553.60 Z M685.05,553.60 L685.14,545.63 L685.69,545.83 L686.16,553.60 Z M687.13,553.60 L687.83,544.13 L688.40,544.33 L688.27,553.60 Z M688.52,553.60 L689.01,543.07 L689.70,543.27 L689.90,553.60 Z M690.78,553.60 L691.43,543.47 L692.06,543.67 L692.03,553.60 Z M692.19,553.60 L692.53,543.47 L693.15,543.67 L693.43,553.60 Z M694.51,553.60 L694.66,544.54 L695.34,544.74 L695.87,553.60 Z M696.09,553.60 L696.15,542.75 L696.71,542.95 L697.21,553.60 Z M698.54,553.60 L698.64,545.40 L699.07,545.60 L699.42,553.60 Z M700.27,553.60 L700.49,542.05 L701.00,542.25 L701.30,553.60 Z M701.77,553.60 L702.45,543.02 L703.00,543.22 L702.88,553.60 Z M704.18,553.60 L704.89,544.59 L705.44,544.79 L705.29,553.60 Z M705.87,553.60 L705.78,542.77 L706.21,542.97 L706.74,553.60 Z M707.99,553.60 L708.55,543.31 L709.08,543.51 L709.05,553.60 Z M709.57,553.60 L709.81,544.56 L710.49,544.76 L710.93,553.60 Z M711.85,553.60 L712.54,545.67 L713.06,545.87 L712.89,553.60 Z M713.76,553.60 L714.32,545.98 L714.96,546.18 L715.04,553.60 Z M715.96,553.60 L716.56,545.92 L717.27,546.12 L717.37,553.60 Z M718.43,553.60 L718.85,544.51 L719.36,544.71 L719.44,553.60 Z M720.17,553.60 L720.90,542.49 L721.44,542.69 L721.25,553.60 Z " fill="url(#gr2)"/><path d="M506.50,544.53 L506.25,553.13 M511.88,543.40 L511.76,549.56 M515.46,545.95 L515.67,553.09 M519.27,544.74 L519.54,550.42 M522.94,543.91 L522.66,552.07 M526.39,545.98 L526.10,549.83 M529.50,543.80 L529.30,551.18 M533.03,543.78 L533.12,550.43 M536.54,544.19 L536.19,552.61 M539.47,545.73 L539.69,551.21 M542.37,544.68 L542.24,552.93 M547.17,544.96 L547.57,551.07 M550.85,544.52 L550.70,552.00 M555.86,544.92 L555.89,551.87 M561.32,546.18 L561.28,552.91 M565.05,544.68 L564.74,549.63 M570.54,543.40 L570.68,553.31 M575.78,543.24 L576.02,550.70 M578.31,543.33 L578.05,550.89 M581.25,545.15 L581.63,549.82 M585.70,543.15 L585.49,553.15 M589.64,544.79 L589.65,550.01 M592.32,543.63 L592.58,553.23 M596.39,545.19 L596.11,553.05 M600.37,543.41 L600.06,549.92 M603.51,543.16 L603.41,550.33 M607.87,545.76 L608.05,553.17 M611.89,545.95 L611.58,550.11 M616.85,545.01 L616.75,550.31 M620.24,544.38 L620.16,551.21 M625.13,545.61 L625.11,551.76 M628.49,545.46 L628.27,553.51 M633.10,545.24 L632.72,552.16 M637.25,543.64 L637.31,550.24 M641.69,545.01 L641.85,552.50 M645.61,543.14 L645.87,552.63 M650.62,544.92 L650.37,549.60 M653.44,545.04 L653.19,551.69 M658.81,546.14 L658.78,553.15 M662.19,543.66 L662.35,552.84 M665.52,545.90 L665.45,551.79 M669.26,545.31 L669.39,551.32 M672.13,545.25 L672.46,550.56 M675.27,544.06 L675.19,551.66 M679.35,545.97 L679.57,550.27 M683.93,545.53 L683.89,551.29 M687.47,544.52 L687.22,550.49 M691.40,543.61 L691.45,551.38 M694.82,543.54 L695.11,551.94 M697.99,544.98 L698.30,552.16 M702.54,543.98 L702.81,550.30 M705.93,543.03 L705.69,553.03 M709.37,544.02 L709.55,550.50 M712.90,544.41 L713.17,551.17 M715.46,544.86 L715.18,549.98 M719.78,544.20 L719.85,549.71 " stroke="#fff" stroke-width="0.5" opacity="0.5" fill="none"/><rect x="577.35" y="541.70" width="0.9" height="13.40" fill="#fff" opacity="0.85"/><rect x="649.15" y="541.70" width="0.9" height="13.40" fill="#fff" opacity="0.85"/>
<use href="#beetle" transform="translate(519.00,538.75) scale(1.130)"/>
<use href="#beetle" transform="translate(562.20,538.75) scale(1.130)"/>
<use href="#beetle" transform="translate(580.20,538.75) scale(1.130)"/>
<use href="#beetle" transform="translate(607.70,538.75) scale(1.130)"/>
<use href="#beetle" transform="translate(655.60,538.75) scale(1.130)"/>
<use href="#beetle" transform="translate(674.50,538.75) scale(1.130)"/>
<use href="#beetle" transform="translate(716.30,538.75) scale(1.130)"/>
<use href="#ant" transform="translate(546.30,538.90) scale(1.050)"/>
<use href="#ant" transform="translate(630.80,538.90) scale(1.050)"/>
<use href="#worm" transform="translate(700.75,538.90) rotate(5) scale(0.900)"/>
</svg>
</body></html>
